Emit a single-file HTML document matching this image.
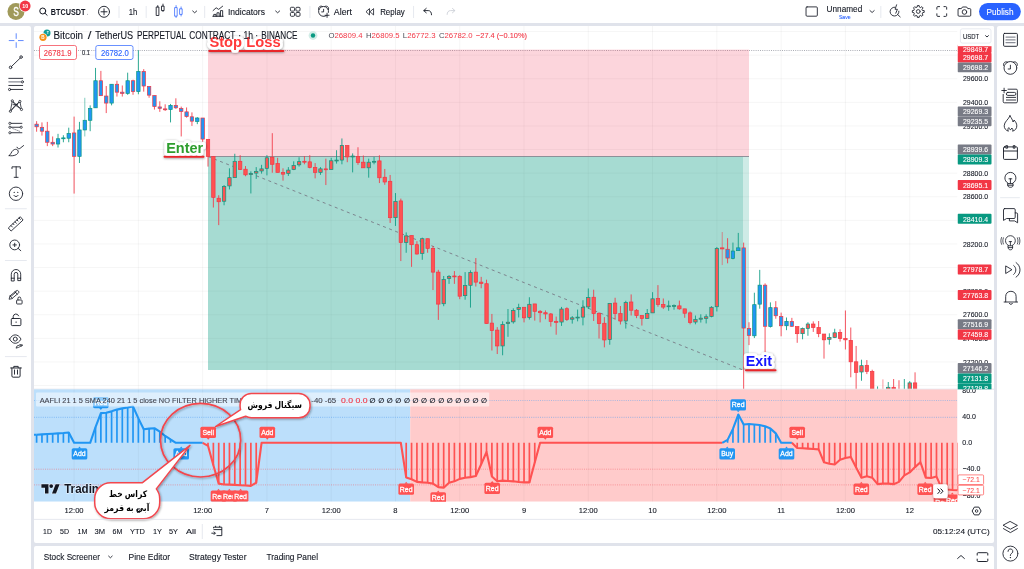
<!DOCTYPE html>
<html lang="en"><head><meta charset="utf-8">
<title>BTCUSDT 26782.0 — TradingView</title>
<style>
html,body{margin:0;padding:0;}
body{width:1024px;height:569px;overflow:hidden;background:#E0E3EB;font-family:"Liberation Sans", "DejaVu Sans", sans-serif;}
.page{position:relative;width:1024px;height:569px;overflow:hidden;background:#E0E3EB;}
.panel{position:absolute;background:#fff;overflow:hidden;}
.panel svg{display:block;font-family:"Liberation Sans", "DejaVu Sans", sans-serif;}
text{white-space:pre;}
</style></head>
<body><div class="page">
<div class="panel topbar" style="left:0px;top:0px;width:1024px;height:23.2px;"><svg width="1024" height="23.2" viewBox="0 0 1024 23.2">
<circle cx="15.7" cy="11.4" r="8.5" fill="#A09A5A"/>
<text x="15.8" y="15.9" font-size="12" fill="#fff" text-anchor="middle" textLength="5.6" lengthAdjust="spacingAndGlyphs" stroke="#fff" stroke-width="0.35">S</text>
<circle cx="24.9" cy="6" r="6.1" fill="#fff"/><circle cx="24.9" cy="6" r="5.4" fill="#F23645"/>
<text x="24.95" y="8.12" font-size="6.2" fill="#fff" font-weight="bold" text-anchor="middle" textLength="6" lengthAdjust="spacingAndGlyphs">10</text>
<path d="M45.5 11A3 3 0 1 1 39.5 11A3 3 0 1 1 45.5 11M44.7 13.2L46.9 15.3" stroke="#131722" stroke-width="1" fill="none" stroke-linecap="round" stroke-linejoin="round"/>
<text x="50.6" y="14.61" font-size="8.7" fill="#131722" font-weight="bold" textLength="34.6" lengthAdjust="spacingAndGlyphs">BTCUSDT</text>
<circle cx="87.3" cy="14.2" r="0.5" fill="#9598A1"/>
<path d="M109.3 11.8A5.5 5.5 0 1 1 98.3 11.8A5.5 5.5 0 1 1 109.3 11.8M103.8 8.8V14.8M100.8 11.8H106.8" stroke="#131722" stroke-width="0.9" fill="none" stroke-linecap="round" stroke-linejoin="round"/>
<path d="M118.8 6V18" stroke="#E0E3EB" stroke-width="0.8"/>
<path d="M146 6V18" stroke="#E0E3EB" stroke-width="0.8"/>
<path d="M204.5 6V18" stroke="#E0E3EB" stroke-width="0.8"/>
<path d="M309.8 6V18" stroke="#E0E3EB" stroke-width="0.8"/>
<path d="M413.5 6V18" stroke="#E0E3EB" stroke-width="0.8"/>
<path d="M881 6V18" stroke="#E0E3EB" stroke-width="0.8"/>
<text x="128.6" y="14.64" font-size="8.5" fill="#131722" textLength="8.5" lengthAdjust="spacingAndGlyphs" stroke="#131722" stroke-width="0.1">1h</text>
<path d="M156.4 7H158.7V15.5H156.4ZM157.55 5.6V7M161.7 6.1H163.9V10.6H161.7ZM162.8 4.1V6.1M162.8 10.6V11.4" stroke="#131722" stroke-width="0.85" fill="none" stroke-linecap="round" stroke-linejoin="round" stroke-linejoin="miter" stroke-linecap="butt"/>
<path d="M174.8 7.6H177V16.2H174.8ZM175.9 5.6V7.6M175.9 16.2V17.5M179.8 8.8H182V14.4H179.8ZM180.9 6.9V8.8M180.9 14.4V16" stroke="#3D6FFF" stroke-width="0.8" fill="none" stroke-linecap="round" stroke-linejoin="round" stroke-linejoin="miter" stroke-linecap="butt"/>
<path d="M192.5 11L194.5 12.8L196.5 11" stroke="#131722" stroke-width="0.85" fill="none" stroke-linecap="round" stroke-linejoin="round"/>
<path d="M212.6 16.3H223M213.6 16.3V14.4H215.8V16.3M216.8 16.3V12.8H219V16.3M220.3 16.3V10.6H222.5V16.3" stroke="#131722" stroke-width="0.85" fill="none" stroke-linecap="round" stroke-linejoin="round" stroke-linejoin="miter" stroke-linecap="butt"/>
<path d="M212.9 10.6L216 7.8L218.5 9.4L222.5 6.2" stroke="#131722" stroke-width="0.85" fill="none" stroke-linecap="round" stroke-linejoin="round"/>
<text x="227.8" y="14.64" font-size="8.5" fill="#131722" textLength="37" lengthAdjust="spacingAndGlyphs" stroke="#131722" stroke-width="0.1">Indicators</text>
<path d="M275.5 11L277.5 12.8L279.5 11" stroke="#131722" stroke-width="0.85" fill="none" stroke-linecap="round" stroke-linejoin="round"/>
<rect x="290.3" y="7.3" width="4.1" height="3.8" rx="1" fill="none" stroke="#131722" stroke-width="0.85"/>
<rect x="295.8" y="7.3" width="4.1" height="3.8" rx="1" fill="none" stroke="#131722" stroke-width="0.85"/>
<rect x="290.3" y="12.5" width="4.1" height="3.8" rx="1" fill="none" stroke="#131722" stroke-width="0.85"/>
<rect x="295.8" y="12.5" width="4.1" height="3.8" rx="1" fill="none" stroke="#131722" stroke-width="0.85"/>
<path d="M326 15.8A5 5 0 1 1 328.4 12.4M323.5 9.3V11.9H321.6M318.6 9.6C317.8 7.2 319.9 5.3 322.2 6.4M328.4 9.6C329.2 7.2 327.1 5.3 324.8 6.4M324.9 15.3H329M326.95 13.2V17.4" stroke="#131722" stroke-width="0.85" fill="none" stroke-linecap="round" stroke-linejoin="round"/>
<text x="333.7" y="14.64" font-size="8.5" fill="#131722" textLength="18.2" lengthAdjust="spacingAndGlyphs" stroke="#131722" stroke-width="0.1">Alert</text>
<path d="M369.4 9V15L366.2 12ZM373.5 9V15L370.2 12Z" stroke="#131722" stroke-width="0.8" fill="none" stroke-linecap="round" stroke-linejoin="round" stroke-linejoin="miter"/>
<text x="380.1" y="14.64" font-size="8.5" fill="#131722" textLength="24.6" lengthAdjust="spacingAndGlyphs" stroke="#131722" stroke-width="0.1">Replay</text>
<path d="M426.2 8.4L423.7 10.6L426.2 12.8M423.9 10.6H428.2C430.2 10.6 431.5 12.2 431.5 14.8" stroke="#131722" stroke-width="0.9" fill="none" stroke-linecap="round" stroke-linejoin="round"/>
<path d="M452.4 8.4L454.9 10.6L452.4 12.8M454.7 10.6H450.4C448.4 10.6 447.1 12.2 447.1 14.4" stroke="#CDD0D8" stroke-width="0.9" fill="none" stroke-linecap="round" stroke-linejoin="round"/>
<path d="M807.2 6.9H816.5A1 1 0 0 1 817.5 7.9V15.2A1 1 0 0 1 816.5 16.2H807.2A1 1 0 0 1 806.2 15.2V7.9A1 1 0 0 1 807.2 6.9Z" stroke="#131722" stroke-width="0.85" fill="none" stroke-linecap="round" stroke-linejoin="round"/>
<text x="826.8" y="11.64" font-size="8.5" fill="#131722" textLength="35.6" lengthAdjust="spacingAndGlyphs" stroke="#131722" stroke-width="0.1">Unnamed</text>
<text x="845" y="18.72" font-size="6.2" fill="#2962FF" text-anchor="middle" textLength="11.8" lengthAdjust="spacingAndGlyphs" stroke="#2962FF" stroke-width="0.1">Save</text>
<path d="M870.2 10.6L872.3 12.5L874.4 10.6" stroke="#131722" stroke-width="0.85" fill="none" stroke-linecap="round" stroke-linejoin="round"/>
<path d="M894.9 7.2A4.4 4.4 0 1 0 899.1 11.2M897.9 14.6L900.4 16.9M896.8 4.8L895.3 9.3H897.6L896 13.2" stroke="#131722" stroke-width="0.85" fill="none" stroke-linecap="round" stroke-linejoin="round"/>
<path d="M922.98 10.45L924.43 10.6L924.43 12.4L922.98 12.55L922.41 13.93L923.33 15.06L922.06 16.33L920.93 15.41L919.55 15.98L919.4 17.43L917.6 17.43L917.45 15.98L916.07 15.41L914.94 16.33L913.67 15.06L914.59 13.93L914.02 12.55L912.57 12.4L912.57 10.6L914.02 10.45L914.59 9.07L913.67 7.94L914.94 6.67L916.07 7.59L917.45 7.02L917.6 5.57L919.4 5.57L919.55 7.02L920.93 7.59L922.06 6.67L923.33 7.94L922.41 9.07ZM920.4 11.5A1.9 1.9 0 1 1 916.6 11.5A1.9 1.9 0 1 1 920.4 11.5" stroke="#131722" stroke-width="0.85" fill="none" stroke-linecap="round" stroke-linejoin="round"/>
<path d="M937.1 9.2V7.6A1 1 0 0 1 938.1 6.6H939.8M944.2 6.6H945.9A1 1 0 0 1 946.9 7.6V9.2M946.9 13.8V15.4A1 1 0 0 1 945.9 16.4H944.2M939.8 16.4H938.1A1 1 0 0 1 937.1 15.4V13.8" stroke="#131722" stroke-width="0.9" fill="none" stroke-linecap="round" stroke-linejoin="round"/>
<path d="M959.3 8.6H961.6L962.7 7H966.9L968 8.6H970A1 1 0 0 1 971 9.6V15.2A1 1 0 0 1 970 16.2H959.3A1 1 0 0 1 958.3 15.2V9.6A1 1 0 0 1 959.3 8.6ZM967 12A2.3 2.3 0 1 1 962.4 12A2.3 2.3 0 1 1 967 12" stroke="#131722" stroke-width="0.85" fill="none" stroke-linecap="round" stroke-linejoin="round"/>
<rect x="979.3" y="3" width="41.8" height="17.2" rx="8.6" fill="#2962FF"/>
<text x="986.8" y="14.74" font-size="8.5" fill="#fff" textLength="27" lengthAdjust="spacingAndGlyphs" stroke="#fff" stroke-width="0.1">Publish</text>
</svg></div>
<div class="panel leftbar" style="left:0px;top:26px;width:31.4px;height:543px;border-radius:0 2px 0 0;"><svg width="31.4" height="543" viewBox="0 26 31.4 543">
<path d="M16.2 33.6V38.4M16.2 42.6V47.4M9.2 40.5H14M18.4 40.5H23.2" stroke="#2962FF" stroke-width="0.75" fill="none" stroke-linecap="round" stroke-linejoin="round"/>
<path d="M11.6 66.3L20.2 58M11.9 67.3A1.3 1.3 0 1 1 9.3 67.3A1.3 1.3 0 1 1 11.9 67.3M22.4 57A1.3 1.3 0 1 1 19.8 57A1.3 1.3 0 1 1 22.4 57" stroke="#131722" stroke-width="0.85" fill="none" stroke-linecap="round" stroke-linejoin="round"/>
<path d="M8.8 78.3H22.7M8.8 85.4H22.7M10.8 89.4H22.7M10.7 89.4A1.1 1.1 0 1 1 8.5 89.4A1.1 1.1 0 1 1 10.7 89.4M23.5 81.8A1.1 1.1 0 1 1 21.3 81.8A1.1 1.1 0 1 1 23.5 81.8" stroke="#131722" stroke-width="0.85" fill="none" stroke-linecap="round" stroke-linejoin="round"/>
<path d="M8.8 81.8H21.2" stroke="#8A8D97" stroke-width="1.1" fill="none" stroke-linecap="round" stroke-linejoin="round"/>
<path d="M10.4 111.2L12.3 100.8L15.4 105.1L19.9 101.4L21.5 109.4L15.4 105.1L10.4 111.2M12.3 100.8L21.5 109.4M10.4 111.2L19.9 101.4M13 104.6H17.6" stroke="#131722" stroke-width="0.75" fill="none" stroke-linecap="round" stroke-linejoin="round"/>
<circle cx="10.4" cy="111.2" r="1.1" fill="#fff" stroke="#131722" stroke-width="0.75"/>
<circle cx="12.3" cy="100.8" r="1.1" fill="#fff" stroke="#131722" stroke-width="0.75"/>
<circle cx="19.9" cy="101.4" r="1.1" fill="#fff" stroke="#131722" stroke-width="0.75"/>
<circle cx="21.5" cy="109.4" r="1.1" fill="#fff" stroke="#131722" stroke-width="0.75"/>
<path d="M11.1 123.3H21.9M11.1 127.2H20M11.1 132.7H21.9" stroke="#131722" stroke-width="0.85" fill="none" stroke-linecap="round" stroke-linejoin="round"/>
<circle cx="9.9" cy="123.3" r="1.1" fill="#fff" stroke="#131722" stroke-width="0.75"/>
<circle cx="9.9" cy="127.2" r="1.1" fill="#fff" stroke="#131722" stroke-width="0.75"/>
<circle cx="21.2" cy="127.2" r="1.1" fill="#fff" stroke="#131722" stroke-width="0.75"/>
<circle cx="9.9" cy="132.7" r="1.1" fill="#fff" stroke="#131722" stroke-width="0.75"/>
<path d="M12.6 128.4L20.4 131.6" stroke="#6A6D78" stroke-width="0.7" fill="none" stroke-linecap="round" stroke-linejoin="round" stroke-dasharray="1.1 1.1"/>
<path d="M9.2 155.6C10.8 154.8 11.2 151.8 13.2 150.2C14.6 149 16.6 149 17.6 150C18.8 151.2 18.4 153.2 16.6 154.4C14.6 155.8 11 156 9.2 155.6ZM17 147.2C17.4 148.8 19 149.2 20.2 148.2L23.6 145.5" stroke="#131722" stroke-width="0.85" fill="none" stroke-linecap="round" stroke-linejoin="round"/>
<path d="M12 168.6V166.8H20.3V168.6M16.15 166.8V177.2M14.2 177.3H18.1" stroke="#131722" stroke-width="0.85" fill="none" stroke-linecap="round" stroke-linejoin="round"/>
<path d="M22.7 193.7A6.7 6.7 0 1 1 9.3 193.7A6.7 6.7 0 1 1 22.7 193.7M13.9 195.4C14.8 197 17.2 197 18.1 195.4" stroke="#131722" stroke-width="0.85" fill="none" stroke-linecap="round" stroke-linejoin="round"/>
<circle cx="14.2" cy="192.3" r="0.65" fill="#131722"/><circle cx="17.8" cy="192.3" r="0.65" fill="#131722"/>
<path d="M5 208.7H26.8" stroke="#E0E3EB" stroke-width="0.8"/>
<path d="M5 260.5H26.8" stroke="#E0E3EB" stroke-width="0.8"/>
<path d="M5 356.6H26.8" stroke="#E0E3EB" stroke-width="0.8"/>
<path d="M8.6 227.7L20.3 216.7L23.1 220L11.4 230.8ZM11 225.6L12.4 227M13 223.6L14 224.7M15 221.8L16.4 223.2M17 219.9L18 221M19 218L20.4 219.4" stroke="#131722" stroke-width="0.85" fill="none" stroke-linecap="round" stroke-linejoin="round"/>
<path d="M19.6 244.9A4.9 4.9 0 1 1 9.8 244.9A4.9 4.9 0 1 1 19.6 244.9M18.2 248.4L20.8 250.7M13 244.9H16.4M14.7 243.2V246.6" stroke="#131722" stroke-width="0.85" fill="none" stroke-linecap="round" stroke-linejoin="round"/>
<path d="M11.3 280.6V274.2A4.7 4.7 0 0 1 20.7 274.2V280.6H17.8V274.2A1.8 1.8 0 0 0 14.2 274.2V280.6ZM11.3 278.2H14.2M17.8 278.2H20.7" stroke="#131722" stroke-width="0.85" fill="none" stroke-linecap="round" stroke-linejoin="round"/>
<path d="M9.2 298.9L10 295.9L16.4 290.6C17 290.2 17.8 290.4 18.4 291C19 291.8 19 292.6 18.4 293.2L12.2 298.4ZM10 295.9L12.2 298.4M15 291.8L17.2 294.2M11.4 296L16.4 291.8" stroke="#131722" stroke-width="0.8" fill="none" stroke-linecap="round" stroke-linejoin="round"/>
<rect x="16.6" y="300" width="5.5" height="4" rx="0.7" fill="#fff" stroke="#131722" stroke-width="0.85"/>
<path d="M17.9 300V298.6A1.5 1.5 0 0 1 20.9 298.4" stroke="#131722" stroke-width="0.85" fill="none" stroke-linecap="round" stroke-linejoin="round"/>
<path d="M12.3 318.5H19.9A1 1 0 0 1 20.9 319.5V324.6A1 1 0 0 1 19.9 325.6H12.3A1 1 0 0 1 11.3 324.6V319.5A1 1 0 0 1 12.3 318.5ZM13.2 318.5V316.6A2.8 2.8 0 0 1 18.6 315.8" stroke="#131722" stroke-width="0.9" fill="none" stroke-linecap="round" stroke-linejoin="round"/>
<circle cx="16.1" cy="322.1" r="0.7" fill="#131722"/>
<path d="M9.6 339.1C11.2 336.2 13.2 334.9 15.3 334.9C17.4 334.9 19.4 336.2 21 339.1C19.4 342 17.4 343.3 15.3 343.3C13.2 343.3 11.2 342 9.6 339.1ZM17.3 339.1A2 2 0 1 1 13.3 339.1A2 2 0 1 1 17.3 339.1" stroke="#131722" stroke-width="0.85" fill="none" stroke-linecap="round" stroke-linejoin="round"/>
<path d="M16.2 347.8L17 346L21 344.6L22.8 345.2L19 347.2ZM20 344.8L21.6 346" stroke="#131722" stroke-width="0.75" fill="none" stroke-linecap="round" stroke-linejoin="round"/>
<path d="M10.6 368H21.4M11.9 368V376A1.2 1.2 0 0 0 13.1 377.2H18.9A1.2 1.2 0 0 0 20.1 376V368M13.8 367.8V366.4H18.2V367.8M14.5 370V374.2M17.5 370V374.2" stroke="#131722" stroke-width="0.9" fill="none" stroke-linecap="round" stroke-linejoin="round"/>
</svg></div>
<div class="panel chart" style="left:34px;top:26px;width:960px;height:516.5px;border-radius:2px;"><svg width="960" height="516.5" viewBox="34 26 960 516.5">
<defs><clipPath id="cpMain"><rect x="34" y="26" width="923.5" height="363.2"/></clipPath><clipPath id="cpInd"><rect x="34" y="389.2" width="923.5" height="112.5"/></clipPath><filter id="sh" x="-20%" y="-20%" width="140%" height="150%"><feDropShadow dx="0.8" dy="1" stdDeviation="0.9" flood-color="#000" flood-opacity="0.35"/></filter><filter id="sh2" x="-20%" y="-20%" width="140%" height="150%"><feDropShadow dx="0.3" dy="0.6" stdDeviation="1" flood-color="#000" flood-opacity="0.45"/></filter></defs>
<g clip-path="url(#cpMain)">
<path d="M74.1 26V389.2M138.38 26V389.2M202.65 26V389.2M266.93 26V389.2M331.21 26V389.2M395.49 26V389.2M459.76 26V389.2M524.04 26V389.2M588.32 26V389.2M652.59 26V389.2M716.87 26V389.2M781.15 26V389.2M845.42 26V389.2M909.7 26V389.2M34 31.55H957.5M34 55.15H957.5M34 78.75H957.5M34 102.35H957.5M34 125.95H957.5M34 149.55H957.5M34 173.15H957.5M34 196.75H957.5M34 220.35H957.5M34 243.95H957.5M34 267.55H957.5M34 291.15H957.5M34 314.75H957.5M34 338.35H957.5M34 361.95H957.5M34 385.55H957.5" stroke="rgba(42,46,57,0.045)" stroke-width="1" fill="none"/>
<path d="M34 50.5H957.5" stroke="#9598A1" stroke-width="0.8" stroke-dasharray="1 1.2" fill="none"/>
<rect x="208" y="49.6" width="541" height="106.9" fill="rgba(240,45,80,0.2)"/>
<rect x="208" y="156.5" width="541" height="213.5" fill="rgba(8,153,129,0.2)"/>
<rect x="208" y="156.5" width="535" height="213.5" fill="rgba(8,153,129,0.2)"/>
<path d="M208 156.5H749" stroke="#7F828D" stroke-width="0.85" fill="none"/>
<path d="M208 156.5L743 370" stroke="#787B86" stroke-width="0.9" stroke-dasharray="3 3.5" fill="none"/>
<path d="M36.61 121.17V131.72" stroke="#F23645" stroke-width="0.85"/>
<rect x="34.91" y="124.16" width="3.4" height="2.64" fill="#2196F3" stroke="#F23645" stroke-width="0.7"/>
<path d="M41.96 122.4V135.59" stroke="#F23645" stroke-width="0.85"/>
<rect x="40.26" y="127.32" width="3.4" height="3.87" fill="#2196F3" stroke="#F23645" stroke-width="0.7"/>
<path d="M47.32 121.88V146.13" stroke="#F23645" stroke-width="0.85"/>
<rect x="45.62" y="131.19" width="3.4" height="11.07" fill="#2196F3" stroke="#F23645" stroke-width="0.7"/>
<path d="M52.67 136.46V146.13" stroke="#F23645" stroke-width="0.85"/>
<rect x="50.97" y="142.27" width="3.4" height="1.76" fill="#2196F3" stroke="#F23645" stroke-width="0.7"/>
<path d="M58.03 133.83V147.54" stroke="#089981" stroke-width="0.85"/>
<rect x="56.33" y="138.75" width="3.4" height="5.27" fill="#2196F3" stroke="#089981" stroke-width="0.7"/>
<path d="M63.39 135.23V142.27" stroke="#089981" stroke-width="0.85"/>
<rect x="61.69" y="137.87" width="3.4" height="0.9" fill="#2196F3" stroke="#089981" stroke-width="0.7"/>
<path d="M68.74 127.68V142.27" stroke="#089981" stroke-width="0.85"/>
<rect x="67.04" y="133.48" width="3.4" height="4.75" fill="#2196F3" stroke="#089981" stroke-width="0.7"/>
<path d="M74.1 116.6V193.59" stroke="#F23645" stroke-width="0.85"/>
<rect x="72.4" y="132.95" width="3.4" height="23.38" fill="#2196F3" stroke="#F23645" stroke-width="0.7"/>
<path d="M79.46 121.88V163.01" stroke="#089981" stroke-width="0.85"/>
<rect x="77.76" y="129.96" width="3.4" height="26.37" fill="#2196F3" stroke="#089981" stroke-width="0.7"/>
<path d="M84.81 97.79V136.46" stroke="#089981" stroke-width="0.85" opacity="0.6"/>
<rect x="83.11" y="120.29" width="3.4" height="9.67" fill="#2196F3" stroke="#089981" stroke-width="0.7"/>
<path d="M90.17 105.35V131.19" stroke="#089981" stroke-width="0.85"/>
<rect x="88.47" y="108.34" width="3.4" height="11.95" fill="#2196F3" stroke="#089981" stroke-width="0.7"/>
<path d="M95.53 67.91V107.81" stroke="#089981" stroke-width="0.85"/>
<rect x="93.83" y="80.74" width="3.4" height="27.07" fill="#2196F3" stroke="#089981" stroke-width="0.7"/>
<path d="M100.88 70.9V95.68" stroke="#F23645" stroke-width="0.85"/>
<rect x="99.18" y="80.74" width="3.4" height="14.94" fill="#2196F3" stroke="#F23645" stroke-width="0.7"/>
<path d="M106.24 86.02V113.09" stroke="#F23645" stroke-width="0.85"/>
<rect x="104.54" y="96.04" width="3.4" height="7.03" fill="#2196F3" stroke="#F23645" stroke-width="0.7"/>
<path d="M111.59 84.26V105.35" stroke="#089981" stroke-width="0.85"/>
<rect x="109.89" y="84.26" width="3.4" height="18.81" fill="#2196F3" stroke="#089981" stroke-width="0.7"/>
<path d="M116.95 80.74V96.56" stroke="#F23645" stroke-width="0.85"/>
<rect x="115.25" y="84.26" width="3.4" height="7.91" fill="#2196F3" stroke="#F23645" stroke-width="0.7"/>
<path d="M122.31 85.49V96.56" stroke="#F23645" stroke-width="0.85"/>
<rect x="120.61" y="92.17" width="3.4" height="1.23" fill="#2196F3" stroke="#F23645" stroke-width="0.7"/>
<path d="M127.66 72.66V94.8" stroke="#089981" stroke-width="0.85"/>
<rect x="125.96" y="80.74" width="3.4" height="12.66" fill="#2196F3" stroke="#089981" stroke-width="0.7"/>
<path d="M133.02 79.69V94.8" stroke="#F23645" stroke-width="0.85"/>
<rect x="131.32" y="80.74" width="3.4" height="10.9" fill="#2196F3" stroke="#F23645" stroke-width="0.7"/>
<path d="M138.38 50.21V94.28" stroke="#089981" stroke-width="0.85"/>
<rect x="136.68" y="71.43" width="3.4" height="20.21" fill="#2196F3" stroke="#089981" stroke-width="0.7"/>
<path d="M143.73 69.14V91.64" stroke="#F23645" stroke-width="0.85"/>
<rect x="142.03" y="71.43" width="3.4" height="14.59" fill="#2196F3" stroke="#F23645" stroke-width="0.7"/>
<path d="M149.09 86.37V97.79" stroke="#F23645" stroke-width="0.85"/>
<rect x="147.39" y="86.37" width="3.4" height="8.79" fill="#2196F3" stroke="#F23645" stroke-width="0.7"/>
<path d="M154.45 95.51V109.57" stroke="#F23645" stroke-width="0.85"/>
<rect x="152.75" y="95.51" width="3.4" height="11.07" fill="#2196F3" stroke="#F23645" stroke-width="0.7"/>
<path d="M159.8 101.31V111.86" stroke="#F23645" stroke-width="0.85"/>
<rect x="158.1" y="106.93" width="3.4" height="1.41" fill="#2196F3" stroke="#F23645" stroke-width="0.7"/>
<path d="M165.16 104.3V110.98" stroke="#F23645" stroke-width="0.85"/>
<rect x="163.46" y="108.87" width="3.4" height="0.9" fill="#2196F3" stroke="#F23645" stroke-width="0.7"/>
<path d="M170.52 103.95V122.4" stroke="#089981" stroke-width="0.85"/>
<rect x="168.82" y="105.35" width="3.4" height="4.22" fill="#2196F3" stroke="#089981" stroke-width="0.7"/>
<path d="M175.87 98.32V108.87" stroke="#F23645" stroke-width="0.85"/>
<rect x="174.17" y="105.35" width="3.4" height="2.46" fill="#2196F3" stroke="#F23645" stroke-width="0.7"/>
<path d="M181.23 106.58V136.46" stroke="#F23645" stroke-width="0.85"/>
<rect x="179.53" y="108.34" width="3.4" height="3.16" fill="#2196F3" stroke="#F23645" stroke-width="0.7"/>
<path d="M186.58 107.46V117.66" stroke="#F23645" stroke-width="0.85"/>
<rect x="184.88" y="111.86" width="3.4" height="4.75" fill="#2196F3" stroke="#F23645" stroke-width="0.7"/>
<path d="M191.94 112.38V125.92" stroke="#F23645" stroke-width="0.85"/>
<rect x="190.24" y="116.78" width="3.4" height="4.39" fill="#2196F3" stroke="#F23645" stroke-width="0.7"/>
<path d="M197.3 117.13V124.16" stroke="#089981" stroke-width="0.85"/>
<rect x="195.6" y="118.01" width="3.4" height="3.52" fill="#2196F3" stroke="#089981" stroke-width="0.7"/>
<path d="M202.65 118.01V141.74" stroke="#F23645" stroke-width="0.85"/>
<rect x="200.95" y="118.01" width="3.4" height="21.09" fill="#2196F3" stroke="#F23645" stroke-width="0.7"/>
<path d="M208.01 139.34V166.58" stroke="#F23645" stroke-width="0.85"/>
<rect x="206.31" y="139.34" width="3.4" height="17.23" fill="#FF5252" stroke="#F23645" stroke-width="0.7"/>
<path d="M213.37 156.56V207.54" stroke="#F23645" stroke-width="0.85"/>
<rect x="211.67" y="156.56" width="3.4" height="40.78" fill="#FF5252" stroke="#F23645" stroke-width="0.7"/>
<path d="M218.72 195.23V225.12" stroke="#F23645" stroke-width="0.85"/>
<rect x="217.02" y="198.22" width="3.4" height="3.52" fill="#FF5252" stroke="#F23645" stroke-width="0.7"/>
<path d="M224.08 185.04V205.25" stroke="#089981" stroke-width="0.85"/>
<rect x="222.38" y="186.45" width="3.4" height="14.77" fill="#FF5252" stroke="#089981" stroke-width="0.7"/>
<path d="M229.44 168.34V189.43" stroke="#089981" stroke-width="0.85"/>
<rect x="227.74" y="177.66" width="3.4" height="8.26" fill="#FF5252" stroke="#089981" stroke-width="0.7"/>
<path d="M234.79 153.75V177.66" stroke="#089981" stroke-width="0.85"/>
<rect x="233.09" y="161.31" width="3.4" height="16.35" fill="#FF5252" stroke="#089981" stroke-width="0.7"/>
<path d="M240.15 155.16V169.57" stroke="#F23645" stroke-width="0.85"/>
<rect x="238.45" y="161.31" width="3.4" height="8.26" fill="#FF5252" stroke="#F23645" stroke-width="0.7"/>
<path d="M245.5 166.05V176.25" stroke="#F23645" stroke-width="0.85"/>
<rect x="243.8" y="169.22" width="3.4" height="5.62" fill="#FF5252" stroke="#F23645" stroke-width="0.7"/>
<path d="M250.86 171.33V193.48" stroke="#089981" stroke-width="0.85"/>
<rect x="249.16" y="173.61" width="3.4" height="0.9" fill="#FF5252" stroke="#089981" stroke-width="0.7"/>
<path d="M256.22 167.11V178.89" stroke="#089981" stroke-width="0.85"/>
<rect x="254.52" y="171.33" width="3.4" height="1.76" fill="#FF5252" stroke="#089981" stroke-width="0.7"/>
<path d="M261.57 164.82V173.61" stroke="#089981" stroke-width="0.85"/>
<rect x="259.87" y="168.87" width="3.4" height="2.11" fill="#FF5252" stroke="#089981" stroke-width="0.7"/>
<path d="M266.93 155.16V175.37" stroke="#089981" stroke-width="0.85"/>
<rect x="265.23" y="157.79" width="3.4" height="10.55" fill="#FF5252" stroke="#089981" stroke-width="0.7"/>
<path d="M272.29 133.18V172.73" stroke="#F23645" stroke-width="0.85"/>
<rect x="270.59" y="157.27" width="3.4" height="7.03" fill="#FF5252" stroke="#F23645" stroke-width="0.7"/>
<path d="M277.64 157.79V172.38" stroke="#F23645" stroke-width="0.85"/>
<rect x="275.94" y="163.59" width="3.4" height="8.79" fill="#FF5252" stroke="#F23645" stroke-width="0.7"/>
<path d="M283 168.34V180.64" stroke="#F23645" stroke-width="0.85"/>
<rect x="281.3" y="172.38" width="3.4" height="1.76" fill="#FF5252" stroke="#F23645" stroke-width="0.7"/>
<path d="M288.36 167.11V175.9" stroke="#089981" stroke-width="0.85"/>
<rect x="286.66" y="170.1" width="3.4" height="3.52" fill="#FF5252" stroke="#089981" stroke-width="0.7"/>
<path d="M293.71 161.31V170.1" stroke="#089981" stroke-width="0.85"/>
<rect x="292.01" y="165.35" width="3.4" height="4.22" fill="#FF5252" stroke="#089981" stroke-width="0.7"/>
<path d="M299.07 157.27V166.58" stroke="#089981" stroke-width="0.85"/>
<rect x="297.37" y="161.66" width="3.4" height="3.16" fill="#FF5252" stroke="#089981" stroke-width="0.7"/>
<path d="M304.43 156.04V164.3" stroke="#F23645" stroke-width="0.85"/>
<rect x="302.73" y="161.31" width="3.4" height="0.9" fill="#FF5252" stroke="#F23645" stroke-width="0.7"/>
<path d="M309.78 155.16V168.34" stroke="#F23645" stroke-width="0.85"/>
<rect x="308.08" y="161.84" width="3.4" height="5.62" fill="#FF5252" stroke="#F23645" stroke-width="0.7"/>
<path d="M315.14 163.07V178.36" stroke="#F23645" stroke-width="0.85"/>
<rect x="313.44" y="167.46" width="3.4" height="4.92" fill="#FF5252" stroke="#F23645" stroke-width="0.7"/>
<path d="M320.49 167.11V174.84" stroke="#089981" stroke-width="0.85"/>
<rect x="318.79" y="168.87" width="3.4" height="3.52" fill="#FF5252" stroke="#089981" stroke-width="0.7"/>
<path d="M325.85 158.67V185.04" stroke="#F23645" stroke-width="0.85"/>
<rect x="324.15" y="168.87" width="3.4" height="0.9" fill="#FF5252" stroke="#F23645" stroke-width="0.7"/>
<path d="M331.21 157.79V169.57" stroke="#089981" stroke-width="0.85"/>
<rect x="329.51" y="160.78" width="3.4" height="8.79" fill="#FF5252" stroke="#089981" stroke-width="0.7"/>
<path d="M336.56 150.23V163.59" stroke="#089981" stroke-width="0.85"/>
<rect x="334.86" y="160.08" width="3.4" height="0.9" fill="#FF5252" stroke="#089981" stroke-width="0.7"/>
<path d="M341.92 138.46V164.3" stroke="#089981" stroke-width="0.85"/>
<rect x="340.22" y="145.49" width="3.4" height="14.59" fill="#FF5252" stroke="#089981" stroke-width="0.7"/>
<path d="M347.28 145.49V162.19" stroke="#F23645" stroke-width="0.85"/>
<rect x="345.58" y="145.49" width="3.4" height="11.43" fill="#FF5252" stroke="#F23645" stroke-width="0.7"/>
<path d="M352.63 153.4V172.38" stroke="#089981" stroke-width="0.85"/>
<rect x="350.93" y="156.04" width="3.4" height="0.9" fill="#FF5252" stroke="#089981" stroke-width="0.7"/>
<path d="M357.99 147.25V164.82" stroke="#F23645" stroke-width="0.85"/>
<rect x="356.29" y="156.39" width="3.4" height="6.15" fill="#FF5252" stroke="#F23645" stroke-width="0.7"/>
<path d="M363.35 155.51V167.81" stroke="#F23645" stroke-width="0.85"/>
<rect x="361.65" y="162.19" width="3.4" height="5.62" fill="#FF5252" stroke="#F23645" stroke-width="0.7"/>
<path d="M368.7 158.67V177.66" stroke="#089981" stroke-width="0.85"/>
<rect x="367" y="162.19" width="3.4" height="5.62" fill="#FF5252" stroke="#089981" stroke-width="0.7"/>
<path d="M374.06 156.91V164.3" stroke="#089981" stroke-width="0.85"/>
<rect x="372.36" y="161.31" width="3.4" height="0.9" fill="#FF5252" stroke="#089981" stroke-width="0.7"/>
<path d="M379.41 155.27V183.05" stroke="#F23645" stroke-width="0.85"/>
<rect x="377.71" y="160.9" width="3.4" height="16.88" fill="#FF5252" stroke="#F23645" stroke-width="0.7"/>
<path d="M384.77 168.98V184.8" stroke="#F23645" stroke-width="0.85"/>
<rect x="383.07" y="177.25" width="3.4" height="4.75" fill="#FF5252" stroke="#F23645" stroke-width="0.7"/>
<path d="M390.13 174.96V222.95" stroke="#F23645" stroke-width="0.85"/>
<rect x="388.43" y="181.29" width="3.4" height="36.39" fill="#FF5252" stroke="#F23645" stroke-width="0.7"/>
<path d="M395.48 193.07V225.94" stroke="#089981" stroke-width="0.85"/>
<rect x="393.78" y="201.33" width="3.4" height="16.35" fill="#FF5252" stroke="#089981" stroke-width="0.7"/>
<path d="M400.84 198.63V261.04" stroke="#F23645" stroke-width="0.85"/>
<rect x="399.14" y="200.92" width="3.4" height="41.66" fill="#FF5252" stroke="#F23645" stroke-width="0.7"/>
<path d="M406.2 232.38V252.77" stroke="#089981" stroke-width="0.85"/>
<rect x="404.5" y="235.9" width="3.4" height="6.68" fill="#FF5252" stroke="#089981" stroke-width="0.7"/>
<path d="M411.55 235.55V266.84" stroke="#F23645" stroke-width="0.85"/>
<rect x="409.85" y="235.55" width="3.4" height="9.14" fill="#FF5252" stroke="#F23645" stroke-width="0.7"/>
<path d="M416.91 241.17V254.53" stroke="#F23645" stroke-width="0.85"/>
<rect x="415.21" y="244.69" width="3.4" height="9.32" fill="#FF5252" stroke="#F23645" stroke-width="0.7"/>
<path d="M422.27 237.66V259.8" stroke="#089981" stroke-width="0.85"/>
<rect x="420.57" y="238.71" width="3.4" height="14.77" fill="#FF5252" stroke="#089981" stroke-width="0.7"/>
<path d="M427.62 238.71V252.77" stroke="#F23645" stroke-width="0.85"/>
<rect x="425.92" y="238.71" width="3.4" height="9.67" fill="#FF5252" stroke="#F23645" stroke-width="0.7"/>
<path d="M432.98 246.09V290.04" stroke="#F23645" stroke-width="0.85"/>
<rect x="431.28" y="248.38" width="3.4" height="23.73" fill="#FF5252" stroke="#F23645" stroke-width="0.7"/>
<path d="M438.34 269.82V319.92" stroke="#F23645" stroke-width="0.85"/>
<rect x="436.64" y="272.11" width="3.4" height="31.99" fill="#FF5252" stroke="#F23645" stroke-width="0.7"/>
<path d="M443.69 275.98V306.21" stroke="#089981" stroke-width="0.85"/>
<rect x="441.99" y="279.49" width="3.4" height="24.26" fill="#FF5252" stroke="#089981" stroke-width="0.7"/>
<path d="M449.05 275.1V283.89" stroke="#089981" stroke-width="0.85"/>
<rect x="447.35" y="276.33" width="3.4" height="2.29" fill="#FF5252" stroke="#089981" stroke-width="0.7"/>
<path d="M454.4 271.05V283.89" stroke="#F23645" stroke-width="0.85"/>
<rect x="452.7" y="275.98" width="3.4" height="0.9" fill="#FF5252" stroke="#F23645" stroke-width="0.7"/>
<path d="M459.76 275.1V299.18" stroke="#F23645" stroke-width="0.85"/>
<rect x="458.06" y="276.33" width="3.4" height="19.86" fill="#FF5252" stroke="#F23645" stroke-width="0.7"/>
<path d="M465.12 272.11V299.71" stroke="#089981" stroke-width="0.85"/>
<rect x="463.42" y="285.64" width="3.4" height="10.02" fill="#FF5252" stroke="#089981" stroke-width="0.7"/>
<path d="M470.47 270.35V307.62" stroke="#089981" stroke-width="0.85"/>
<rect x="468.77" y="272.46" width="3.4" height="12.83" fill="#FF5252" stroke="#089981" stroke-width="0.7"/>
<path d="M475.83 258.05V286.52" stroke="#F23645" stroke-width="0.85"/>
<rect x="474.13" y="272.11" width="3.4" height="10.02" fill="#FF5252" stroke="#F23645" stroke-width="0.7"/>
<path d="M481.19 276.86V288.28" stroke="#F23645" stroke-width="0.85"/>
<rect x="479.49" y="282.13" width="3.4" height="1.41" fill="#FF5252" stroke="#F23645" stroke-width="0.7"/>
<path d="M486.54 279.67V323.61" stroke="#F23645" stroke-width="0.85"/>
<rect x="484.84" y="283.71" width="3.4" height="39.9" fill="#FF5252" stroke="#F23645" stroke-width="0.7"/>
<path d="M491.9 313.95V350.51" stroke="#F23645" stroke-width="0.85"/>
<rect x="490.2" y="323.09" width="3.4" height="7.56" fill="#FF5252" stroke="#F23645" stroke-width="0.7"/>
<path d="M497.26 327.13V354.02" stroke="#F23645" stroke-width="0.85"/>
<rect x="495.56" y="330.12" width="3.4" height="15.82" fill="#FF5252" stroke="#F23645" stroke-width="0.7"/>
<path d="M502.61 321.33V355.25" stroke="#089981" stroke-width="0.85"/>
<rect x="500.91" y="324.49" width="3.4" height="21.45" fill="#FF5252" stroke="#089981" stroke-width="0.7"/>
<path d="M507.97 309.02V336.8" stroke="#089981" stroke-width="0.85"/>
<rect x="506.27" y="322.21" width="3.4" height="1.41" fill="#FF5252" stroke="#089981" stroke-width="0.7"/>
<path d="M513.32 308.32V323.61" stroke="#089981" stroke-width="0.85"/>
<rect x="511.62" y="310.43" width="3.4" height="11.43" fill="#FF5252" stroke="#089981" stroke-width="0.7"/>
<path d="M518.68 303.75V317.46" stroke="#089981" stroke-width="0.85"/>
<rect x="516.98" y="307.44" width="3.4" height="2.11" fill="#FF5252" stroke="#089981" stroke-width="0.7"/>
<path d="M524.04 307.27V322.38" stroke="#F23645" stroke-width="0.85"/>
<rect x="522.34" y="307.27" width="3.4" height="10.55" fill="#FF5252" stroke="#F23645" stroke-width="0.7"/>
<path d="M529.39 297.25V319.57" stroke="#089981" stroke-width="0.85"/>
<rect x="527.69" y="304.28" width="3.4" height="13.18" fill="#FF5252" stroke="#089981" stroke-width="0.7"/>
<path d="M534.75 303.93V320.62" stroke="#F23645" stroke-width="0.85"/>
<rect x="533.05" y="303.93" width="3.4" height="7.38" fill="#FF5252" stroke="#F23645" stroke-width="0.7"/>
<path d="M540.11 310.08V322.38" stroke="#F23645" stroke-width="0.85"/>
<rect x="538.41" y="311.31" width="3.4" height="1.41" fill="#FF5252" stroke="#F23645" stroke-width="0.7"/>
<path d="M545.46 310.43V319.22" stroke="#F23645" stroke-width="0.85"/>
<rect x="543.76" y="312.71" width="3.4" height="1.23" fill="#FF5252" stroke="#F23645" stroke-width="0.7"/>
<path d="M550.82 313.07V326.6" stroke="#F23645" stroke-width="0.85"/>
<rect x="549.12" y="313.95" width="3.4" height="7.56" fill="#FF5252" stroke="#F23645" stroke-width="0.7"/>
<path d="M556.18 316.58V334.69" stroke="#F23645" stroke-width="0.85"/>
<rect x="554.48" y="321.33" width="3.4" height="1.05" fill="#FF5252" stroke="#F23645" stroke-width="0.7"/>
<path d="M561.53 306.91V325.9" stroke="#089981" stroke-width="0.85"/>
<rect x="559.83" y="309.02" width="3.4" height="13.01" fill="#FF5252" stroke="#089981" stroke-width="0.7"/>
<path d="M566.89 307.27V320.98" stroke="#F23645" stroke-width="0.85"/>
<rect x="565.19" y="308.67" width="3.4" height="10.9" fill="#FF5252" stroke="#F23645" stroke-width="0.7"/>
<path d="M572.25 316.05V323.61" stroke="#089981" stroke-width="0.85"/>
<rect x="570.55" y="317.81" width="3.4" height="1.41" fill="#FF5252" stroke="#089981" stroke-width="0.7"/>
<path d="M577.6 309.55V321.33" stroke="#089981" stroke-width="0.85"/>
<rect x="575.9" y="317.11" width="3.4" height="0.9" fill="#FF5252" stroke="#089981" stroke-width="0.7"/>
<path d="M582.96 300.23V325.37" stroke="#089981" stroke-width="0.85"/>
<rect x="581.26" y="307.27" width="3.4" height="9.84" fill="#FF5252" stroke="#089981" stroke-width="0.7"/>
<path d="M588.31 288.46V309.02" stroke="#089981" stroke-width="0.85"/>
<rect x="586.61" y="297.6" width="3.4" height="9.32" fill="#FF5252" stroke="#089981" stroke-width="0.7"/>
<path d="M593.67 289.69V320.98" stroke="#F23645" stroke-width="0.85"/>
<rect x="591.97" y="297.25" width="3.4" height="16.35" fill="#FF5252" stroke="#F23645" stroke-width="0.7"/>
<path d="M599.03 312.19V338.55" stroke="#F23645" stroke-width="0.85"/>
<rect x="597.33" y="313.59" width="3.4" height="10.02" fill="#FF5252" stroke="#F23645" stroke-width="0.7"/>
<path d="M604.38 317.11V347.34" stroke="#F23645" stroke-width="0.85"/>
<rect x="602.68" y="323.26" width="3.4" height="16.7" fill="#FF5252" stroke="#F23645" stroke-width="0.7"/>
<path d="M609.74 303.4V344.71" stroke="#089981" stroke-width="0.85"/>
<rect x="608.04" y="303.4" width="3.4" height="36.21" fill="#FF5252" stroke="#089981" stroke-width="0.7"/>
<path d="M615.1 297.77V319.57" stroke="#F23645" stroke-width="0.85"/>
<rect x="613.4" y="303.05" width="3.4" height="10.55" fill="#FF5252" stroke="#F23645" stroke-width="0.7"/>
<path d="M620.45 306.04V324.49" stroke="#F23645" stroke-width="0.85"/>
<rect x="618.75" y="313.59" width="3.4" height="7.38" fill="#FF5252" stroke="#F23645" stroke-width="0.7"/>
<path d="M625.81 300.76V328.54" stroke="#089981" stroke-width="0.85"/>
<rect x="624.11" y="302.52" width="3.4" height="18.46" fill="#FF5252" stroke="#089981" stroke-width="0.7"/>
<path d="M631.17 294.43V315.53" stroke="#F23645" stroke-width="0.85"/>
<rect x="629.47" y="301.99" width="3.4" height="8.26" fill="#FF5252" stroke="#F23645" stroke-width="0.7"/>
<path d="M636.52 309.02V318.16" stroke="#F23645" stroke-width="0.85"/>
<rect x="634.82" y="310.25" width="3.4" height="5.27" fill="#FF5252" stroke="#F23645" stroke-width="0.7"/>
<path d="M641.88 315.53V325.55" stroke="#F23645" stroke-width="0.85"/>
<rect x="640.18" y="315.53" width="3.4" height="2.99" fill="#FF5252" stroke="#F23645" stroke-width="0.7"/>
<path d="M647.23 309.02V318.52" stroke="#089981" stroke-width="0.85"/>
<rect x="645.53" y="313.42" width="3.4" height="5.1" fill="#FF5252" stroke="#089981" stroke-width="0.7"/>
<path d="M652.59 292.15V312.89" stroke="#089981" stroke-width="0.85"/>
<rect x="650.89" y="298.83" width="3.4" height="14.06" fill="#FF5252" stroke="#089981" stroke-width="0.7"/>
<path d="M657.95 285.12V306.74" stroke="#F23645" stroke-width="0.85"/>
<rect x="656.25" y="298.48" width="3.4" height="5.98" fill="#FF5252" stroke="#F23645" stroke-width="0.7"/>
<path d="M663.3 298.48V309.02" stroke="#F23645" stroke-width="0.85"/>
<rect x="661.6" y="304.45" width="3.4" height="2.64" fill="#FF5252" stroke="#F23645" stroke-width="0.7"/>
<path d="M668.66 300.59V310.78" stroke="#089981" stroke-width="0.85"/>
<rect x="666.96" y="305.86" width="3.4" height="0.9" fill="#FF5252" stroke="#089981" stroke-width="0.7"/>
<path d="M674.02 304.45V309.73" stroke="#089981" stroke-width="0.85"/>
<rect x="672.32" y="305.51" width="3.4" height="0.9" fill="#FF5252" stroke="#089981" stroke-width="0.7"/>
<path d="M679.37 300.59V309.73" stroke="#F23645" stroke-width="0.85"/>
<rect x="677.67" y="305.86" width="3.4" height="2.99" fill="#FF5252" stroke="#F23645" stroke-width="0.7"/>
<path d="M684.73 308.85V317.81" stroke="#F23645" stroke-width="0.85"/>
<rect x="683.03" y="308.85" width="3.4" height="4.39" fill="#FF5252" stroke="#F23645" stroke-width="0.7"/>
<path d="M690.09 311.48V324.32" stroke="#F23645" stroke-width="0.85"/>
<rect x="688.39" y="312.89" width="3.4" height="9.67" fill="#FF5252" stroke="#F23645" stroke-width="0.7"/>
<path d="M695.44 315.53V324.32" stroke="#089981" stroke-width="0.85"/>
<rect x="693.74" y="319.57" width="3.4" height="2.46" fill="#FF5252" stroke="#089981" stroke-width="0.7"/>
<path d="M700.8 314.3V322.56" stroke="#089981" stroke-width="0.85"/>
<rect x="699.1" y="318.16" width="3.4" height="1.05" fill="#FF5252" stroke="#089981" stroke-width="0.7"/>
<path d="M706.16 314.3V323.44" stroke="#089981" stroke-width="0.85"/>
<rect x="704.46" y="316.76" width="3.4" height="1.76" fill="#FF5252" stroke="#089981" stroke-width="0.7"/>
<path d="M711.51 306.21V317.29" stroke="#089981" stroke-width="0.85"/>
<rect x="709.81" y="307.27" width="3.4" height="9.14" fill="#FF5252" stroke="#089981" stroke-width="0.7"/>
<path d="M716.87 246.97V311.48" stroke="#089981" stroke-width="0.85"/>
<rect x="715.17" y="248.38" width="3.4" height="58.36" fill="#FF5252" stroke="#089981" stroke-width="0.7"/>
<path d="M722.22 232.03V265.08" stroke="#F23645" stroke-width="0.85" opacity="0.6"/>
<rect x="720.52" y="247.85" width="3.4" height="1.05" fill="#FF5252" stroke="#F23645" stroke-width="0.7"/>
<path d="M727.58 238.18V263.32" stroke="#F23645" stroke-width="0.85"/>
<rect x="725.88" y="249.26" width="3.4" height="8.79" fill="#2196F3" stroke="#F23645" stroke-width="0.7"/>
<path d="M732.94 242.58V259.28" stroke="#089981" stroke-width="0.85"/>
<rect x="731.24" y="251.02" width="3.4" height="7.38" fill="#2196F3" stroke="#089981" stroke-width="0.7"/>
<path d="M738.29 232.91V250.66" stroke="#089981" stroke-width="0.85"/>
<rect x="736.59" y="247.85" width="3.4" height="2.81" fill="#2196F3" stroke="#089981" stroke-width="0.7"/>
<path d="M743.65 242.62V389.39" stroke="#F23645" stroke-width="0.85"/>
<rect x="741.95" y="247.89" width="3.4" height="80.16" fill="#2196F3" stroke="#F23645" stroke-width="0.7"/>
<path d="M749.01 322.25V345.1" stroke="#F23645" stroke-width="0.85"/>
<rect x="747.31" y="328.4" width="3.4" height="7.03" fill="#2196F3" stroke="#F23645" stroke-width="0.7"/>
<path d="M754.36 292.71V338.07" stroke="#089981" stroke-width="0.85"/>
<rect x="752.66" y="304.67" width="3.4" height="31.11" fill="#2196F3" stroke="#089981" stroke-width="0.7"/>
<path d="M759.72 269.86V308.71" stroke="#089981" stroke-width="0.85"/>
<rect x="758.02" y="285.16" width="3.4" height="18.98" fill="#2196F3" stroke="#089981" stroke-width="0.7"/>
<path d="M765.08 283.4V352.13" stroke="#F23645" stroke-width="0.85"/>
<rect x="763.38" y="285.16" width="3.4" height="41.13" fill="#2196F3" stroke="#F23645" stroke-width="0.7"/>
<path d="M770.43 302.38V327.52" stroke="#089981" stroke-width="0.85"/>
<rect x="768.73" y="307.66" width="3.4" height="18.98" fill="#2196F3" stroke="#089981" stroke-width="0.7"/>
<path d="M775.79 301.15V318.73" stroke="#F23645" stroke-width="0.85"/>
<rect x="774.09" y="307.66" width="3.4" height="8.09" fill="#2196F3" stroke="#F23645" stroke-width="0.7"/>
<path d="M781.14 312.58V336.31" stroke="#F23645" stroke-width="0.85"/>
<rect x="779.44" y="316.45" width="3.4" height="9.32" fill="#2196F3" stroke="#F23645" stroke-width="0.7"/>
<path d="M786.5 317.5V330.16" stroke="#089981" stroke-width="0.85"/>
<rect x="784.8" y="321.37" width="3.4" height="4.39" fill="#2196F3" stroke="#089981" stroke-width="0.7"/>
<path d="M791.86 317.85V326.99" stroke="#F23645" stroke-width="0.85"/>
<rect x="790.16" y="321.37" width="3.4" height="4.92" fill="#2196F3" stroke="#F23645" stroke-width="0.7"/>
<path d="M797.21 326.64V342.81" stroke="#F23645" stroke-width="0.85"/>
<rect x="795.51" y="326.64" width="3.4" height="7.03" fill="#FF5252" stroke="#F23645" stroke-width="0.7"/>
<path d="M802.57 327.52V339.3" stroke="#089981" stroke-width="0.85"/>
<rect x="800.87" y="328.4" width="3.4" height="5.27" fill="#FF5252" stroke="#089981" stroke-width="0.7"/>
<path d="M807.93 322.25V335.78" stroke="#089981" stroke-width="0.85"/>
<rect x="806.23" y="324" width="3.4" height="4.39" fill="#FF5252" stroke="#089981" stroke-width="0.7"/>
<path d="M813.28 321.37V331.91" stroke="#F23645" stroke-width="0.85"/>
<rect x="811.58" y="324" width="3.4" height="3.52" fill="#FF5252" stroke="#F23645" stroke-width="0.7"/>
<path d="M818.64 321.02V337.19" stroke="#F23645" stroke-width="0.85"/>
<rect x="816.94" y="327.52" width="3.4" height="6.15" fill="#FF5252" stroke="#F23645" stroke-width="0.7"/>
<path d="M824 334.02V358.63" stroke="#F23645" stroke-width="0.85"/>
<rect x="822.3" y="334.02" width="3.4" height="5.8" fill="#FF5252" stroke="#F23645" stroke-width="0.7"/>
<path d="M829.35 333.32V344.57" stroke="#089981" stroke-width="0.85"/>
<rect x="827.65" y="337.54" width="3.4" height="1.76" fill="#FF5252" stroke="#089981" stroke-width="0.7"/>
<path d="M834.71 328.75V338.07" stroke="#089981" stroke-width="0.85"/>
<rect x="833.01" y="332.79" width="3.4" height="4.75" fill="#FF5252" stroke="#089981" stroke-width="0.7"/>
<path d="M840.07 329.28V341.58" stroke="#F23645" stroke-width="0.85"/>
<rect x="838.37" y="332.44" width="3.4" height="6.15" fill="#FF5252" stroke="#F23645" stroke-width="0.7"/>
<path d="M845.42 310.47V349.49" stroke="#F23645" stroke-width="0.85"/>
<rect x="843.72" y="338.59" width="3.4" height="1.23" fill="#FF5252" stroke="#F23645" stroke-width="0.7"/>
<path d="M850.78 327.52V377.27" stroke="#F23645" stroke-width="0.85"/>
<rect x="849.08" y="340.35" width="3.4" height="21.45" fill="#FF5252" stroke="#F23645" stroke-width="0.7"/>
<path d="M856.13 345.98V389.92" stroke="#F23645" stroke-width="0.85"/>
<rect x="854.43" y="361.8" width="3.4" height="10.55" fill="#FF5252" stroke="#F23645" stroke-width="0.7"/>
<path d="M861.49 359.69V380.78" stroke="#089981" stroke-width="0.85"/>
<rect x="859.79" y="365.66" width="3.4" height="6.33" fill="#FF5252" stroke="#089981" stroke-width="0.7"/>
<path d="M866.85 360.04V374.1" stroke="#F23645" stroke-width="0.85"/>
<rect x="865.15" y="365.31" width="3.4" height="6.15" fill="#FF5252" stroke="#F23645" stroke-width="0.7"/>
<path d="M872.2 369.71V393.44" stroke="#F23645" stroke-width="0.85"/>
<rect x="870.5" y="371.46" width="3.4" height="21.97" fill="#FF5252" stroke="#F23645" stroke-width="0.7"/>
<path d="M877.56 386.41V393.44" stroke="#089981" stroke-width="0.85"/>
<path d="M882.92 379.38V393.44" stroke="#F23645" stroke-width="0.85" opacity="0.6"/>
<path d="M888.27 382.01V393.44" stroke="#089981" stroke-width="0.85"/>
<rect x="886.57" y="387.29" width="3.4" height="6.15" fill="#FF5252" stroke="#089981" stroke-width="0.7"/>
<path d="M893.63 379.02V393.44" stroke="#F23645" stroke-width="0.85"/>
<rect x="891.93" y="387.29" width="3.4" height="6.15" fill="#FF5252" stroke="#F23645" stroke-width="0.7"/>
<path d="M898.99 380.25V393.44" stroke="#F23645" stroke-width="0.85"/>
<path d="M904.34 379.02V393.44" stroke="#089981" stroke-width="0.85"/>
<path d="M909.7 381.13V393.44" stroke="#089981" stroke-width="0.85"/>
<rect x="908" y="382.89" width="3.4" height="10.55" fill="#FF5252" stroke="#089981" stroke-width="0.7"/>
<path d="M915.05 372.34V393.44" stroke="#F23645" stroke-width="0.85"/>
<rect x="913.35" y="382.89" width="3.4" height="10.55" fill="#FF5252" stroke="#F23645" stroke-width="0.7"/>
</g>
<g filter="url(#sh2)"><path d="M209.3 51H283.3" stroke="#E8262C" stroke-width="2" stroke-linecap="round"/><text x="209.4" y="46.9" font-size="14.3" font-weight="bold" fill="#FF3A3A" stroke="#fff" stroke-width="5.6" stroke-linejoin="round" paint-order="stroke" textLength="71.2" lengthAdjust="spacingAndGlyphs">Stop Loss</text></g>
<g filter="url(#sh2)"><path d="M164.5 156.8H203.5" stroke="#E8262C" stroke-width="2" stroke-linecap="round"/><text x="166.2" y="152.8" font-size="14.3" font-weight="bold" fill="#2E9E2E" stroke="#fff" stroke-width="5.6" stroke-linejoin="round" paint-order="stroke" textLength="37" lengthAdjust="spacingAndGlyphs">Enter</text></g>
<g filter="url(#sh2)"><path d="M746 370.2H775.5" stroke="#E8262C" stroke-width="2" stroke-linecap="round"/><text x="745.8" y="365.6" font-size="14.3" font-weight="bold" fill="#1414FF" stroke="#fff" stroke-width="5.6" stroke-linejoin="round" paint-order="stroke" textLength="26.2" lengthAdjust="spacingAndGlyphs">Exit</text></g>
<circle cx="47" cy="33" r="3.5" fill="#129E98"/><circle cx="43" cy="37.3" r="4.1" fill="#fff"/><circle cx="43" cy="37.3" r="3.6" fill="#F7931A"/>
<text x="43" y="39.05" font-size="4.6" fill="#fff" font-weight="bold" text-anchor="middle">B</text>
<text x="47.9" y="33.59" font-size="3.6" fill="#fff" font-weight="bold" text-anchor="middle">T</text>
<text x="53.5" y="39.15" font-size="10.2" fill="#131722" textLength="29.6" lengthAdjust="spacingAndGlyphs" stroke="#131722" stroke-width="0.1">Bitcoin</text>
<text x="87.8" y="39.15" font-size="10.2" fill="#131722" textLength="3.7" lengthAdjust="spacingAndGlyphs" stroke="#131722" stroke-width="0.1">/</text>
<text x="95.2" y="39.15" font-size="10.2" fill="#131722" textLength="38" lengthAdjust="spacingAndGlyphs" stroke="#131722" stroke-width="0.1">TetherUS</text>
<text x="137" y="39.15" font-size="10.2" fill="#131722" textLength="49" lengthAdjust="spacingAndGlyphs" stroke="#131722" stroke-width="0.1">PERPETUAL</text>
<text x="189.3" y="39.15" font-size="10.2" fill="#131722" textLength="46" lengthAdjust="spacingAndGlyphs" stroke="#131722" stroke-width="0.1">CONTRACT</text>
<text x="238.2" y="39.15" font-size="10.2" fill="#131722" textLength="20" lengthAdjust="spacingAndGlyphs" stroke="#131722" stroke-width="0.1">· 1h ·</text>
<text x="261.3" y="39.15" font-size="10.2" fill="#131722" textLength="36.2" lengthAdjust="spacingAndGlyphs" stroke="#131722" stroke-width="0.1">BINANCE</text>
<circle cx="313" cy="35.5" r="4.4" fill="#D1ECE6"/><circle cx="313" cy="35.5" r="2.2" fill="#089981"/>
<text x="328.5" y="38.46" font-size="8" fill="#4A4D57" textLength="34" lengthAdjust="spacingAndGlyphs">O<tspan fill="#F23645">26809.4</tspan></text>
<text x="366" y="38.46" font-size="8" fill="#4A4D57" textLength="33.5" lengthAdjust="spacingAndGlyphs">H<tspan fill="#F23645">26809.5</tspan></text>
<text x="402.8" y="38.46" font-size="8" fill="#4A4D57" textLength="32.7" lengthAdjust="spacingAndGlyphs">L<tspan fill="#F23645">26772.3</tspan></text>
<text x="439" y="38.46" font-size="8" fill="#4A4D57" textLength="33.5" lengthAdjust="spacingAndGlyphs">C<tspan fill="#F23645">26782.0</tspan></text>
<text x="476" y="38.46" font-size="8" fill="#F23645" textLength="51" lengthAdjust="spacingAndGlyphs" stroke="#F23645" stroke-width="0.1">−27.4 (−0.10%)</text>
<rect x="39.5" y="45.5" width="37" height="14" rx="2" fill="#fff" stroke="#F23645" stroke-width="0.7"/>
<text x="43.8" y="55.54" font-size="8.2" fill="#F23645" textLength="27.6" lengthAdjust="spacingAndGlyphs" stroke="#F23645" stroke-width="0.1">26781.9</text>
<text x="82" y="55.06" font-size="6.6" fill="#131722" textLength="7.9" lengthAdjust="spacingAndGlyphs" stroke="#131722" stroke-width="0.1">0.1</text>
<rect x="95.8" y="45.5" width="37.2" height="14" rx="2" fill="#fff" stroke="#2962FF" stroke-width="0.7"/>
<text x="100.9" y="55.54" font-size="8.2" fill="#2962FF" textLength="27.8" lengthAdjust="spacingAndGlyphs" stroke="#2962FF" stroke-width="0.1">26782.0</text>
<path d="M34 389.2H994" stroke="#E0E3EB" stroke-width="1"/>
<g clip-path="url(#cpInd)">
<rect x="34" y="389.2" width="376.2" height="112.5" fill="#BCDFFB"/>
<rect x="410.2" y="389.2" width="547.3" height="112.5" fill="#FFCBCB"/>
<path d="M74.1 389.2V501.7M138.38 389.2V501.7M202.65 389.2V501.7M266.93 389.2V501.7M331.21 389.2V501.7M395.49 389.2V501.7M459.76 389.2V501.7M524.04 389.2V501.7M588.32 389.2V501.7M652.59 389.2V501.7M716.87 389.2V501.7M781.15 389.2V501.7M845.42 389.2V501.7M909.7 389.2V501.7" stroke="rgba(42,46,57,0.045)" stroke-width="1" fill="none"/>
<path d="M34 400.5H957.5" stroke="#64A8F0" stroke-width="0.75" stroke-opacity="0.7" stroke-dasharray="1 1.2" fill="none"/>
<path d="M34 417.3H957.5" stroke="#4C9BEF" stroke-width="0.75" stroke-opacity="0.7" stroke-dasharray="1 1.2" fill="none"/>
<path d="M34 469.2H957.5" stroke="#F0616A" stroke-width="0.75" stroke-opacity="0.7" stroke-dasharray="1 1.2" fill="none"/>
<path d="M34 484.9H957.5" stroke="#F0616A" stroke-width="0.75" stroke-opacity="0.7" stroke-dasharray="1 1.2" fill="none"/>
<path d="M36.61 442.8V434.75M41.96 442.8V434.39M47.32 442.8V434.04M52.67 442.8V433.69M58.03 442.8V433.34M63.39 442.8V432.99M68.74 442.8V432.46M95.53 442.8V427.19M100.88 442.8V413.12M106.24 442.8V412.77M111.59 442.8V411.37M116.95 442.8V409.61M122.31 442.8V408.38M127.66 442.8V407.5M133.02 442.8V406.45M138.38 442.8V418.4M143.73 442.8V429.3M149.09 442.8V428.59M154.45 442.8V428.24M159.8 442.8V431.58M165.16 442.8V435.98M170.52 442.8V439.49M727.58 442.8V439.84M732.94 442.8V428.95M738.29 442.8V414.53M743.65 442.8V424.55M749.01 442.8V424.02M754.36 442.8V424.55M759.72 442.8V425.08M765.08 442.8V426.31M770.43 442.8V428.59M775.79 442.8V433.34" stroke="#2196F3" stroke-width="1.7" fill="none"/>
<path d="M208.01 442.8V445.82M213.37 442.8V465.16M218.72 442.8V483.61M224.08 442.8V484.49M229.44 442.8V484.67M234.79 442.8V484.84M240.15 442.8V485.2M245.5 442.8V485.55M250.86 442.8V485.9M256.22 442.8V482.73M406.2 442.8V477.46M411.55 442.8V479.22M416.91 442.8V481.86M422.27 442.8V482.38M427.62 442.8V482.73M432.98 442.8V483.61M438.34 442.8V487.13M443.69 442.8V487.66M449.05 442.8V482.73M454.4 442.8V481.33M459.76 442.8V478.87M465.12 442.8V477.81M470.47 442.8V477.11M475.83 442.8V476.05M481.19 442.8V464.28M486.54 442.8V451.97M491.9 442.8V476.58M497.26 442.8V481.33M502.61 442.8V480.62M507.97 442.8V480.98M513.32 442.8V481.33M518.68 442.8V482.03M524.04 442.8V482.38M529.39 442.8V482.38M534.75 442.8V462.52M797.21 442.8V447.93M802.57 442.8V448.28M807.93 442.8V448.63M813.28 442.8V448.98M818.64 442.8V449.34M824 442.8V462.34M829.35 442.8V463.75M834.71 442.8V464.45M840.07 442.8V459.71M845.42 442.8V457.95M850.78 442.8V456.91M856.13 442.8V467.46M861.49 442.8V477.66M866.85 442.8V476.25M872.2 442.8V477.66M877.56 442.8V484.16M882.92 442.8V483.63M888.27 442.8V483.63M893.63 442.8V484.16M898.99 442.8V481.88M904.34 442.8V475.37M909.7 442.8V472.38M915.05 442.8V467.11M920.41 442.8V462.19M925.77 442.8V477.66M931.12 442.8V478.01M936.48 442.8V476.6M941.84 442.8V488.55M947.19 442.8V489.43M952.55 442.8V489.96M957.91 442.8V490.31" stroke="#FF5252" stroke-width="1.7" fill="none"/>
<path d="M36.61 434.75L41.96 434.39L47.32 434.04L52.67 433.69L58.03 433.34L63.39 432.99L68.74 432.46L74.1 442.8L79.46 442.8L84.81 442.8L90.17 442.8L95.53 427.19L100.88 413.12L106.24 412.77L111.59 411.37L116.95 409.61L122.31 408.38L127.66 407.5L133.02 406.45L138.38 418.4L143.73 429.3L149.09 428.59L154.45 428.24L159.8 431.58L165.16 435.98L170.52 439.49L175.87 442.8L181.23 442.8L186.58 442.8L191.94 442.8L197.3 442.8L202.65 442.8" stroke="#2196F3" stroke-width="2.1" fill="none" stroke-linejoin="round"/>
<path d="M202.65 442.8L208.01 445.82L213.37 465.16L218.72 483.61L224.08 484.49L229.44 484.67L234.79 484.84L240.15 485.2L245.5 485.55L250.86 485.9L256.22 482.73L261.57 442.8L266.93 442.8L272.29 442.8L277.64 442.8L283 442.8L288.36 442.8L293.71 442.8L299.07 442.8L304.43 442.8L309.78 442.8L315.14 442.8L320.49 442.8L325.85 442.8L331.21 442.8L336.56 442.8L341.92 442.8L347.28 442.8L352.63 442.8L357.99 442.8L363.35 442.8L368.7 442.8L374.06 442.8L379.41 442.8L384.77 442.8L390.13 442.8L395.48 442.8L400.84 442.8L406.2 477.46L411.55 479.22L416.91 481.86L422.27 482.38L427.62 482.73L432.98 483.61L438.34 487.13L443.69 487.66L449.05 482.73L454.4 481.33L459.76 478.87L465.12 477.81L470.47 477.11L475.83 476.05L481.19 464.28L486.54 451.97L491.9 476.58L497.26 481.33L502.61 480.62L507.97 480.98L513.32 481.33L518.68 482.03L524.04 482.38L529.39 482.38L534.75 462.52L540.11 442.8L545.46 442.8L550.82 442.8L556.18 442.8L561.53 442.8L566.89 442.8L572.25 442.8L577.6 442.8L582.96 442.8L588.31 442.8L593.67 442.8L599.03 442.8L604.38 442.8L609.74 442.8L615.1 442.8L620.45 442.8L625.81 442.8L631.17 442.8L636.52 442.8L641.88 442.8L647.23 442.8L652.59 442.8L657.95 442.8L663.3 442.8L668.66 442.8L674.02 442.8L679.37 442.8L684.73 442.8L690.09 442.8L695.44 442.8L700.8 442.8L706.16 442.8L711.51 442.8L716.87 442.8L722.22 442.8" stroke="#FF5252" stroke-width="2.1" fill="none" stroke-linejoin="round"/>
<path d="M722.22 442.8L727.58 439.84L732.94 428.95L738.29 414.53L743.65 424.55L749.01 424.02L754.36 424.55L759.72 425.08L765.08 426.31L770.43 428.59L775.79 433.34L781.14 442.8L786.5 442.8L791.86 442.8" stroke="#2196F3" stroke-width="2.1" fill="none" stroke-linejoin="round"/>
<path d="M791.86 442.8L797.21 447.93L802.57 448.28L807.93 448.63L813.28 448.98L818.64 449.34L824 462.34L829.35 463.75L834.71 464.45L840.07 459.71L845.42 457.95L850.78 456.91L856.13 467.46L861.49 477.66L866.85 476.25L872.2 477.66L877.56 484.16L882.92 483.63L888.27 483.63L893.63 484.16L898.99 481.88L904.34 475.37L909.7 472.38L915.05 467.11L920.41 462.19L925.77 477.66L931.12 478.01L936.48 476.6L941.84 488.55L947.19 489.43L952.55 489.96L957.91 490.31" stroke="#FF5252" stroke-width="2.1" fill="none" stroke-linejoin="round"/>
<path d="M34 434.75L36.61 434.75" stroke="#2196F3" stroke-width="2"/>
<rect x="93" y="396.9" width="15.6" height="11.3" rx="1.6" fill="#2196F3"/><path d="M99.2 408L100.8 410L102.4 408Z" fill="#2196F3"/><text x="100.8" y="405.12" font-size="6.9" fill="#fff" text-anchor="middle" stroke="#fff" stroke-width="0.28">Red</text>
<rect x="71.7" y="448.2" width="15.6" height="11.3" rx="1.6" fill="#2196F3"/><path d="M77.9 448.4L79.5 446.4L81.1 448.4Z" fill="#2196F3"/><text x="79.5" y="456.42" font-size="6.9" fill="#fff" text-anchor="middle" stroke="#fff" stroke-width="0.28">Add</text>
<rect x="173.4" y="448.2" width="15.6" height="11.3" rx="1.6" fill="#2196F3"/><path d="M179.6 448.4L181.2 446.4L182.8 448.4Z" fill="#2196F3"/><text x="181.2" y="456.42" font-size="6.9" fill="#fff" text-anchor="middle" stroke="#fff" stroke-width="0.28">Add</text>
<rect x="200.4" y="426.7" width="15.6" height="11.3" rx="1.6" fill="#FF5252"/><path d="M206.6 437.8L208.2 439.8L209.8 437.8Z" fill="#FF5252"/><text x="208.2" y="434.92" font-size="6.9" fill="#fff" text-anchor="middle" stroke="#fff" stroke-width="0.28">Sell</text>
<rect x="259.5" y="426.7" width="15.6" height="11.3" rx="1.6" fill="#FF5252"/><path d="M265.7 437.8L267.3 439.8L268.9 437.8Z" fill="#FF5252"/><text x="267.3" y="434.92" font-size="6.9" fill="#fff" text-anchor="middle" stroke="#fff" stroke-width="0.28">Add</text>
<rect x="210.7" y="490.5" width="15.6" height="11.3" rx="1.6" fill="#FF5252"/><path d="M216.9 490.7L218.5 488.7L220.1 490.7Z" fill="#FF5252"/><text x="218.5" y="498.72" font-size="6.9" fill="#fff" text-anchor="middle" stroke="#fff" stroke-width="0.28">Red</text>
<rect x="221.5" y="490.5" width="15.6" height="11.3" rx="1.6" fill="#FF5252"/><path d="M227.7 490.7L229.3 488.7L230.9 490.7Z" fill="#FF5252"/><text x="229.3" y="498.72" font-size="6.9" fill="#fff" text-anchor="middle" stroke="#fff" stroke-width="0.28">Red</text>
<rect x="232.8" y="490.5" width="15.6" height="11.3" rx="1.6" fill="#FF5252"/><path d="M239 490.7L240.6 488.7L242.2 490.7Z" fill="#FF5252"/><text x="240.6" y="498.72" font-size="6.9" fill="#fff" text-anchor="middle" stroke="#fff" stroke-width="0.28">Red</text>
<rect x="398.4" y="483.5" width="15.6" height="11.3" rx="1.6" fill="#FF5252"/><path d="M404.6 483.7L406.2 481.7L407.8 483.7Z" fill="#FF5252"/><text x="406.2" y="491.72" font-size="6.9" fill="#fff" text-anchor="middle" stroke="#fff" stroke-width="0.28">Red</text>
<rect x="430.4" y="492.2" width="15.6" height="11.3" rx="1.6" fill="#FF5252"/><path d="M436.6 492.4L438.2 490.4L439.8 492.4Z" fill="#FF5252"/><text x="438.2" y="500.42" font-size="6.9" fill="#fff" text-anchor="middle" stroke="#fff" stroke-width="0.28">Red</text>
<rect x="484.4" y="482.7" width="15.6" height="11.3" rx="1.6" fill="#FF5252"/><path d="M490.6 482.9L492.2 480.9L493.8 482.9Z" fill="#FF5252"/><text x="492.2" y="490.92" font-size="6.9" fill="#fff" text-anchor="middle" stroke="#fff" stroke-width="0.28">Red</text>
<rect x="537.5" y="426.7" width="15.6" height="11.3" rx="1.6" fill="#FF5252"/><path d="M543.7 437.8L545.3 439.8L546.9 437.8Z" fill="#FF5252"/><text x="545.3" y="434.92" font-size="6.9" fill="#fff" text-anchor="middle" stroke="#fff" stroke-width="0.28">Add</text>
<rect x="730.4" y="399.2" width="15.6" height="11.3" rx="1.6" fill="#2196F3"/><path d="M736.6 410.3L738.2 412.3L739.8 410.3Z" fill="#2196F3"/><text x="738.2" y="407.42" font-size="6.9" fill="#fff" text-anchor="middle" stroke="#fff" stroke-width="0.28">Red</text>
<rect x="719.4" y="448.2" width="15.6" height="11.3" rx="1.6" fill="#2196F3"/><path d="M725.6 448.4L727.2 446.4L728.8 448.4Z" fill="#2196F3"/><text x="727.2" y="456.42" font-size="6.9" fill="#fff" text-anchor="middle" stroke="#fff" stroke-width="0.28">Buy</text>
<rect x="778.7" y="448.2" width="15.6" height="11.3" rx="1.6" fill="#2196F3"/><path d="M784.9 448.4L786.5 446.4L788.1 448.4Z" fill="#2196F3"/><text x="786.5" y="456.42" font-size="6.9" fill="#fff" text-anchor="middle" stroke="#fff" stroke-width="0.28">Add</text>
<rect x="789.4" y="426.7" width="15.6" height="11.3" rx="1.6" fill="#FF5252"/><path d="M795.6 437.8L797.2 439.8L798.8 437.8Z" fill="#FF5252"/><text x="797.2" y="434.92" font-size="6.9" fill="#fff" text-anchor="middle" stroke="#fff" stroke-width="0.28">Sell</text>
<rect x="853.5" y="483.6" width="15.6" height="11.3" rx="1.6" fill="#FF5252"/><path d="M859.7 483.8L861.3 481.8L862.9 483.8Z" fill="#FF5252"/><text x="861.3" y="491.82" font-size="6.9" fill="#fff" text-anchor="middle" stroke="#fff" stroke-width="0.28">Red</text>
<rect x="917.4" y="483.6" width="15.6" height="11.3" rx="1.6" fill="#FF5252"/><path d="M923.6 483.8L925.2 481.8L926.8 483.8Z" fill="#FF5252"/><text x="925.2" y="491.82" font-size="6.9" fill="#fff" text-anchor="middle" stroke="#fff" stroke-width="0.28">Red</text>
<rect x="933.7" y="496.8" width="15.6" height="11.3" rx="1.6" fill="#FF5252"/><path d="M939.9 497L941.5 495L943.1 497Z" fill="#FF5252"/><text x="941.5" y="505.02" font-size="6.9" fill="#fff" text-anchor="middle" stroke="#fff" stroke-width="0.28">Red</text>
<rect x="944.5" y="494.4" width="15.6" height="11.3" rx="1.6" fill="#FF5252"/><path d="M950.7 494.6L952.3 492.6L953.9 494.6Z" fill="#FF5252"/><text x="952.3" y="502.62" font-size="6.9" fill="#fff" text-anchor="middle" stroke="#fff" stroke-width="0.28">Red</text>
<rect x="36" y="392.4" width="453.2" height="14" rx="1" fill="rgba(255,255,255,0.5)"/>
<text x="39.7" y="402.51" font-size="7" fill="#40434E" textLength="202.6" lengthAdjust="spacingAndGlyphs" stroke="#40434E" stroke-width="0.1">AAFLI 21 1 5 SMA 240 21 1 5 close NO FILTER HIGHER TIM</text>
<text x="242.6" y="402.51" font-size="7" fill="#40434E" stroke="#40434E" stroke-width="0.1">EFRAME 40 65</text>
<text x="311.3" y="402.51" font-size="7" fill="#40434E" textLength="24.8" lengthAdjust="spacingAndGlyphs" stroke="#40434E" stroke-width="0.1">-40 -65</text>
<text x="341" y="402.51" font-size="7" fill="#F23645" textLength="26.5" lengthAdjust="spacingAndGlyphs" stroke="#F23645" stroke-width="0.1">0.0 0.0</text>
<text x="372.6" y="402.51" font-size="7" fill="#131722" font-weight="bold" text-anchor="middle">∅</text>
<text x="381.17" y="402.51" font-size="7" fill="#131722" font-weight="bold" text-anchor="middle">∅</text>
<text x="389.74" y="402.51" font-size="7" fill="#131722" font-weight="bold" text-anchor="middle">∅</text>
<text x="398.31" y="402.51" font-size="7" fill="#131722" font-weight="bold" text-anchor="middle">∅</text>
<text x="406.88" y="402.51" font-size="7" fill="#131722" font-weight="bold" text-anchor="middle">∅</text>
<text x="415.45" y="402.51" font-size="7" fill="#131722" font-weight="bold" text-anchor="middle">∅</text>
<text x="424.02" y="402.51" font-size="7" fill="#131722" font-weight="bold" text-anchor="middle">∅</text>
<text x="432.59" y="402.51" font-size="7" fill="#131722" font-weight="bold" text-anchor="middle">∅</text>
<text x="441.16" y="402.51" font-size="7" fill="#131722" font-weight="bold" text-anchor="middle">∅</text>
<text x="449.73" y="402.51" font-size="7" fill="#131722" font-weight="bold" text-anchor="middle">∅</text>
<text x="458.3" y="402.51" font-size="7" fill="#131722" font-weight="bold" text-anchor="middle">∅</text>
<text x="466.87" y="402.51" font-size="7" fill="#131722" font-weight="bold" text-anchor="middle">∅</text>
<text x="475.44" y="402.51" font-size="7" fill="#131722" font-weight="bold" text-anchor="middle">∅</text>
<text x="484.01" y="402.51" font-size="7" fill="#131722" font-weight="bold" text-anchor="middle">∅</text>
<g stroke="#fff" stroke-opacity="0.55" stroke-width="1.3" stroke-linejoin="round" paint-order="stroke"><path d="M41.4 484.2H48.5V493.4H45V487.7H41.4Z" fill="#131722"/><circle cx="51.2" cy="486.1" r="1.85" fill="#131722"/><path d="M52 493.4L55.6 484.2H59.6L56 493.4Z" fill="#131722"/><text x="64.2" y="493.48" font-size="12.8" fill="#131722" font-weight="bold" textLength="68" lengthAdjust="spacingAndGlyphs">TradingView</text></g>
<rect x="933.3" y="484.2" width="14.4" height="14" rx="2.2" fill="#fff" filter="url(#sh2)"/><path d="M937.6 488.6L940 491.2L937.6 493.8M940.6 488.6L943 491.2L940.6 493.8" stroke="#131722" stroke-width="1" fill="none"/>
</g>
<g filter="url(#sh)"><ellipse cx="200.6" cy="440.2" rx="40.1" ry="36.8" fill="none" stroke="#F2474E" stroke-width="1.7"/></g>
<g filter="url(#sh)"><path d="M251.3 393.4H298.8A11.2 11.2 0 0 1 310 404.6V406.6A11.2 11.2 0 0 1 298.8 417.8H251.3A11.2 11.2 0 0 1 245.6 416.2L215.6 426.5L240.6 409.6A11.2 11.2 0 0 1 240.1 406.6V404.6A11.2 11.2 0 0 1 251.3 393.4Z" fill="#fff" stroke="#F2474E" stroke-width="1.5" stroke-linejoin="round"/></g>
<text x="274.8" y="407.72" font-size="9" fill="#000" font-weight="bold" text-anchor="middle" textLength="54.5" lengthAdjust="spacingAndGlyphs" direction="rtl">سیگنال فروش</text>
<g filter="url(#sh)"><path d="M110.7 482.7H142.5L190 445.4L156.3 488.85A16 16 0 0 1 159.7 498.7V502.7A16 16 0 0 1 143.7 518.7H110.7A16 16 0 0 1 94.7 502.7V498.7A16 16 0 0 1 110.7 482.7Z" fill="#fff" stroke="#F2474E" stroke-width="1.5" stroke-linejoin="round"/></g>
<text x="128.1" y="496.82" font-size="9" fill="#000" font-weight="bold" text-anchor="middle" textLength="38" lengthAdjust="spacingAndGlyphs" direction="rtl">کراس خط</text>
<text x="126.9" y="510.62" font-size="9" fill="#000" font-weight="bold" text-anchor="middle" textLength="44.8" lengthAdjust="spacingAndGlyphs" direction="rtl">آبی به قرمز</text>
<g clip-path="url(#cpAxis)"><defs><clipPath id="cpAxis"><rect x="957.5" y="26" width="36.5" height="363.2"/></clipPath></defs>
<text x="963" y="81.44" font-size="7.5" fill="#131722" textLength="25" lengthAdjust="spacingAndGlyphs" stroke="#131722" stroke-width="0.1">29600.0</text>
<text x="963" y="105.03" font-size="7.5" fill="#131722" textLength="25" lengthAdjust="spacingAndGlyphs" stroke="#131722" stroke-width="0.1">29400.0</text>
<text x="963" y="128.63" font-size="7.5" fill="#131722" textLength="25" lengthAdjust="spacingAndGlyphs" stroke="#131722" stroke-width="0.1">29200.0</text>
<text x="963" y="152.24" font-size="7.5" fill="#131722" textLength="25" lengthAdjust="spacingAndGlyphs" stroke="#131722" stroke-width="0.1">29000.0</text>
<text x="963" y="175.84" font-size="7.5" fill="#131722" textLength="25" lengthAdjust="spacingAndGlyphs" stroke="#131722" stroke-width="0.1">28800.0</text>
<text x="963" y="199.44" font-size="7.5" fill="#131722" textLength="25" lengthAdjust="spacingAndGlyphs" stroke="#131722" stroke-width="0.1">28600.0</text>
<text x="963" y="223.04" font-size="7.5" fill="#131722" textLength="25" lengthAdjust="spacingAndGlyphs" stroke="#131722" stroke-width="0.1">28400.0</text>
<text x="963" y="246.64" font-size="7.5" fill="#131722" textLength="25" lengthAdjust="spacingAndGlyphs" stroke="#131722" stroke-width="0.1">28200.0</text>
<text x="963" y="270.24" font-size="7.5" fill="#131722" textLength="25" lengthAdjust="spacingAndGlyphs" stroke="#131722" stroke-width="0.1">28000.0</text>
<text x="963" y="293.83" font-size="7.5" fill="#131722" textLength="25" lengthAdjust="spacingAndGlyphs" stroke="#131722" stroke-width="0.1">27800.0</text>
<text x="963" y="317.44" font-size="7.5" fill="#131722" textLength="25" lengthAdjust="spacingAndGlyphs" stroke="#131722" stroke-width="0.1">27600.0</text>
<text x="963" y="341.04" font-size="7.5" fill="#131722" textLength="25" lengthAdjust="spacingAndGlyphs" stroke="#131722" stroke-width="0.1">27400.0</text>
<text x="963" y="364.64" font-size="7.5" fill="#131722" textLength="25" lengthAdjust="spacingAndGlyphs" stroke="#131722" stroke-width="0.1">27200.0</text>
<rect x="957.5" y="44.5" width="34" height="8.5" rx="1" fill="#F23645"/><text x="963" y="51.54" font-size="7.5" fill="#fff" textLength="25" lengthAdjust="spacingAndGlyphs" stroke="#fff" stroke-width="0.1">29849.7</text>
<rect x="957.5" y="26" width="36.5" height="20.2" fill="#fff"/>
<rect x="957.5" y="52.8" width="34" height="9.7" rx="1" fill="#F23645"/><text x="963" y="60.44" font-size="7.5" fill="#fff" textLength="25" lengthAdjust="spacingAndGlyphs" stroke="#fff" stroke-width="0.1">29698.7</text>
<rect x="957.5" y="62.5" width="34" height="9.7" rx="1" fill="#787B86"/><text x="963" y="70.13" font-size="7.5" fill="#fff" textLength="25" lengthAdjust="spacingAndGlyphs" stroke="#fff" stroke-width="0.1">29698.2</text>
<rect x="957.5" y="106.6" width="34" height="9.8" rx="1" fill="#787B86"/><text x="963" y="114.28" font-size="7.5" fill="#fff" textLength="25" lengthAdjust="spacingAndGlyphs" stroke="#fff" stroke-width="0.1">29269.3</text>
<rect x="957.5" y="116.4" width="34" height="9.8" rx="1" fill="#787B86"/><text x="963" y="124.09" font-size="7.5" fill="#fff" textLength="25" lengthAdjust="spacingAndGlyphs" stroke="#fff" stroke-width="0.1">29235.5</text>
<rect x="957.5" y="144.5" width="34" height="9.9" rx="1" fill="#787B86"/><text x="963" y="152.23" font-size="7.5" fill="#fff" textLength="25" lengthAdjust="spacingAndGlyphs" stroke="#fff" stroke-width="0.1">28939.6</text>
<rect x="957.5" y="154.4" width="34" height="10.2" rx="1" fill="#089981"/><text x="963" y="162.28" font-size="7.5" fill="#fff" textLength="25" lengthAdjust="spacingAndGlyphs" stroke="#fff" stroke-width="0.1">28909.3</text>
<rect x="957.5" y="180.1" width="34" height="9.9" rx="1" fill="#F23645"/><text x="963" y="187.84" font-size="7.5" fill="#fff" textLength="25" lengthAdjust="spacingAndGlyphs" stroke="#fff" stroke-width="0.1">28695.1</text>
<rect x="957.5" y="213.7" width="34" height="10.1" rx="1" fill="#089981"/><text x="963" y="221.53" font-size="7.5" fill="#fff" textLength="25" lengthAdjust="spacingAndGlyphs" stroke="#fff" stroke-width="0.1">28410.4</text>
<rect x="957.5" y="264.5" width="34" height="9.9" rx="1" fill="#F23645"/><text x="963" y="272.24" font-size="7.5" fill="#fff" textLength="25" lengthAdjust="spacingAndGlyphs" stroke="#fff" stroke-width="0.1">27978.7</text>
<rect x="957.5" y="290.1" width="34" height="9.9" rx="1" fill="#F23645"/><text x="963" y="297.84" font-size="7.5" fill="#fff" textLength="25" lengthAdjust="spacingAndGlyphs" stroke="#fff" stroke-width="0.1">27763.8</text>
<rect x="957.5" y="319.2" width="34" height="10.4" rx="1" fill="#787B86"/><text x="963" y="327.19" font-size="7.5" fill="#fff" textLength="25" lengthAdjust="spacingAndGlyphs" stroke="#fff" stroke-width="0.1">27516.9</text>
<rect x="957.5" y="329.6" width="34" height="10.1" rx="1" fill="#F23645"/><text x="963" y="337.44" font-size="7.5" fill="#fff" textLength="25" lengthAdjust="spacingAndGlyphs" stroke="#fff" stroke-width="0.1">27459.8</text>
<rect x="957.5" y="362.9" width="34" height="10.6" rx="1" fill="#787B86"/><text x="963" y="370.99" font-size="7.5" fill="#fff" textLength="25" lengthAdjust="spacingAndGlyphs" stroke="#fff" stroke-width="0.1">27146.2</text>
<rect x="957.5" y="373.5" width="34" height="9.9" rx="1" fill="#089981"/><text x="963" y="381.24" font-size="7.5" fill="#fff" textLength="25" lengthAdjust="spacingAndGlyphs" stroke="#fff" stroke-width="0.1">27131.8</text>
<rect x="957.5" y="383.4" width="34" height="10" rx="1" fill="#089981"/><text x="963" y="391.19" font-size="7.5" fill="#fff" textLength="25" lengthAdjust="spacingAndGlyphs" stroke="#fff" stroke-width="0.1">27129.8</text>
</g>
<rect x="960.4" y="28.8" width="30.6" height="14.3" rx="2" fill="#fff" stroke="#E0E3EB" stroke-width="0.7"/>
<text x="963" y="38.51" font-size="7" fill="#131722" textLength="16.2" lengthAdjust="spacingAndGlyphs" stroke="#131722" stroke-width="0.1">USDT</text>
<path d="M985.3 35.4L987 37L988.7 35.4" stroke="#131722" stroke-width="0.9" fill="none"/>
<g clip-path="url(#cpIA)"><text x="962.3" y="393.31" font-size="7" fill="#131722" stroke="#131722" stroke-width="0.1">80.0</text></g>
<g clip-path="url(#cpIA)"><text x="962.3" y="419.41" font-size="7" fill="#131722" stroke="#131722" stroke-width="0.1">40.0</text></g>
<g clip-path="url(#cpIA)"><text x="962.3" y="445.41" font-size="7" fill="#131722" stroke="#131722" stroke-width="0.1">0.0</text></g>
<g clip-path="url(#cpIA)"><text x="962.6" y="471.41" font-size="7" fill="#131722" stroke="#131722" stroke-width="0.1">−40.0</text></g>
<g clip-path="url(#cpIA)"><text x="962.6" y="497.71" font-size="7" fill="#131722" stroke="#131722" stroke-width="0.1">−80.0</text></g>
<defs><clipPath id="cpIA"><rect x="957.5" y="389.4" width="36.5" height="112"/></clipPath></defs>
<rect x="958" y="474.9" width="25.6" height="9.6" rx="1" fill="#fff" stroke="#FF5252" stroke-width="0.7"/>
<text x="962.6" y="482.38" font-size="7.5" fill="#FF5252" textLength="17.2" lengthAdjust="spacingAndGlyphs" stroke="#FF5252" stroke-width="0.1">−72.1</text>
<rect x="958" y="485.3" width="25.6" height="9.6" rx="1" fill="#fff" stroke="#FF5252" stroke-width="0.7"/>
<text x="962.6" y="492.79" font-size="7.5" fill="#FF5252" textLength="17.2" lengthAdjust="spacingAndGlyphs" stroke="#FF5252" stroke-width="0.1">−72.1</text>
<text x="74.1" y="513.12" font-size="7.6" fill="#131722" text-anchor="middle" stroke="#131722" stroke-width="0.1">12:00</text>
<text x="138.38" y="513.12" font-size="7.6" fill="#131722" text-anchor="middle" stroke="#131722" stroke-width="0.1">6</text>
<text x="202.65" y="513.12" font-size="7.6" fill="#131722" text-anchor="middle" stroke="#131722" stroke-width="0.1">12:00</text>
<text x="266.93" y="513.12" font-size="7.6" fill="#131722" text-anchor="middle" stroke="#131722" stroke-width="0.1">7</text>
<text x="331.21" y="513.12" font-size="7.6" fill="#131722" text-anchor="middle" stroke="#131722" stroke-width="0.1">12:00</text>
<text x="395.49" y="513.12" font-size="7.6" fill="#131722" text-anchor="middle" stroke="#131722" stroke-width="0.1">8</text>
<text x="459.76" y="513.12" font-size="7.6" fill="#131722" text-anchor="middle" stroke="#131722" stroke-width="0.1">12:00</text>
<text x="524.04" y="513.12" font-size="7.6" fill="#131722" text-anchor="middle" stroke="#131722" stroke-width="0.1">9</text>
<text x="588.32" y="513.12" font-size="7.6" fill="#131722" text-anchor="middle" stroke="#131722" stroke-width="0.1">12:00</text>
<text x="652.59" y="513.12" font-size="7.6" fill="#131722" text-anchor="middle" stroke="#131722" stroke-width="0.1">10</text>
<text x="716.87" y="513.12" font-size="7.6" fill="#131722" text-anchor="middle" stroke="#131722" stroke-width="0.1">12:00</text>
<text x="781.15" y="513.12" font-size="7.6" fill="#131722" text-anchor="middle" stroke="#131722" stroke-width="0.1">11</text>
<text x="845.42" y="513.12" font-size="7.6" fill="#131722" text-anchor="middle" stroke="#131722" stroke-width="0.1">12:00</text>
<text x="909.7" y="513.12" font-size="7.6" fill="#131722" text-anchor="middle" stroke="#131722" stroke-width="0.1">12</text>
<path d="M972.1 511L974.35 507.1H978.85L981.1 511L978.85 514.9H974.35Z" stroke="#131722" stroke-width="0.9" fill="none" stroke-linejoin="round"/><circle cx="976.6" cy="511" r="1.3" stroke="#131722" stroke-width="0.8" fill="none"/>
<path d="M34 519.4H994" stroke="#E0E3EB" stroke-width="0.8"/>
<text x="43.1" y="534.39" font-size="7.8" fill="#131722" textLength="8.8" lengthAdjust="spacingAndGlyphs" stroke="#131722" stroke-width="0.1">1D</text>
<text x="60" y="534.39" font-size="7.8" fill="#131722" textLength="9" lengthAdjust="spacingAndGlyphs" stroke="#131722" stroke-width="0.1">5D</text>
<text x="77.5" y="534.39" font-size="7.8" fill="#131722" textLength="10" lengthAdjust="spacingAndGlyphs" stroke="#131722" stroke-width="0.1">1M</text>
<text x="94.5" y="534.39" font-size="7.8" fill="#131722" textLength="10.5" lengthAdjust="spacingAndGlyphs" stroke="#131722" stroke-width="0.1">3M</text>
<text x="112.6" y="534.39" font-size="7.8" fill="#131722" textLength="9.9" lengthAdjust="spacingAndGlyphs" stroke="#131722" stroke-width="0.1">6M</text>
<text x="130" y="534.39" font-size="7.8" fill="#131722" textLength="15" lengthAdjust="spacingAndGlyphs" stroke="#131722" stroke-width="0.1">YTD</text>
<text x="153" y="534.39" font-size="7.8" fill="#131722" textLength="9" lengthAdjust="spacingAndGlyphs" stroke="#131722" stroke-width="0.1">1Y</text>
<text x="169" y="534.39" font-size="7.8" fill="#131722" textLength="9" lengthAdjust="spacingAndGlyphs" stroke="#131722" stroke-width="0.1">5Y</text>
<text x="186" y="534.39" font-size="7.8" fill="#131722" textLength="10" lengthAdjust="spacingAndGlyphs" stroke="#131722" stroke-width="0.1">All</text>
<path d="M202.3 524V539" stroke="#E0E3EB" stroke-width="0.8"/>
<g stroke="#131722" stroke-width="0.9" fill="none" stroke-linejoin="round"><path d="M213.5 528.3V527.2H221.8V535.6H216.5M213.5 529.6H221.8M215.6 525.8V527.2M219.7 525.8V527.2M211.4 533.2H215.2M213.8 531.6L215.4 533.2L213.8 534.8"/></g>
<text x="932.9" y="534.39" font-size="7.8" fill="#131722" textLength="56.8" lengthAdjust="spacingAndGlyphs" stroke="#131722" stroke-width="0.1">05:12:24 (UTC)</text>
</svg></div>
<div class="panel bottombar" style="left:34px;top:545.5px;width:960px;height:23.5px;border-radius:2px 2px 0 0;"><svg width="960" height="23.5" viewBox="34 545.5 960 23.5">
<text x="43.8" y="559.88" font-size="8.6" fill="#131722" textLength="56.2" lengthAdjust="spacingAndGlyphs" stroke="#131722" stroke-width="0.1">Stock Screener</text>
<path d="M108.6 555.6L110.4 557.3L112.2 555.6" stroke="#131722" stroke-width="0.85" fill="none" stroke-linecap="round" stroke-linejoin="round"/>
<text x="128.5" y="559.88" font-size="8.6" fill="#131722" textLength="41.5" lengthAdjust="spacingAndGlyphs" stroke="#131722" stroke-width="0.1">Pine Editor</text>
<text x="189" y="559.88" font-size="8.6" fill="#131722" textLength="57.5" lengthAdjust="spacingAndGlyphs" stroke="#131722" stroke-width="0.1">Strategy Tester</text>
<text x="266.5" y="559.88" font-size="8.6" fill="#131722" textLength="51.5" lengthAdjust="spacingAndGlyphs" stroke="#131722" stroke-width="0.1">Trading Panel</text>
<path d="M957.6 558L961 555L964.4 558" stroke="#131722" stroke-width="0.9" fill="none" stroke-linecap="round" stroke-linejoin="round"/>
<path d="M977.2 554.6V553.2A1 1 0 0 1 978.2 552.2H986.8A1 1 0 0 1 987.8 553.2V554.6M987.8 558.6V560A1 1 0 0 1 986.8 561H978.2A1 1 0 0 1 977.2 560V558.6" stroke="#131722" stroke-width="0.95" fill="none" stroke-linecap="round" stroke-linejoin="round"/>
</svg></div>
<div class="panel rightbar" style="left:997px;top:26px;width:27px;height:543px;border-radius:2px 0 0 0;"><svg width="27" height="543" viewBox="997 26 27 543">
<path d="M1004.6 33.4H1016.4A1 1 0 0 1 1017.4 34.4V45.3A1 1 0 0 1 1016.4 46.3H1004.6A1 1 0 0 1 1003.6 45.3V34.4A1 1 0 0 1 1004.6 33.4Z" stroke="#131722" stroke-width="0.9" fill="none" stroke-linecap="round" stroke-linejoin="round"/>
<path d="M1006 37.1H1015.1M1006 39.9H1015.1M1006 42.6H1015.1" stroke="#8A8D97" stroke-width="1.2" fill="none" stroke-linecap="round" stroke-linejoin="round"/>
<path d="M1016.8 67.9A6.4 6.4 0 1 1 1004 67.9A6.4 6.4 0 1 1 1016.8 67.9M1010.4 65.2V69H1008.2M1003.5 65.4C1002.9 62.6 1005.6 60.9 1007.6 62.2M1017.3 65.4C1017.9 62.6 1015.2 60.9 1013.2 62.2" stroke="#131722" stroke-width="0.85" fill="none" stroke-linecap="round" stroke-linejoin="round"/>
<path d="M1001.8 90.5H1006.4M1004.1 88.2V92.8M1008 89.2H1016.2A1.2 1.2 0 0 1 1017.4 90.4V101.6A1.2 1.2 0 0 1 1016.2 102.8H1004.4A1.2 1.2 0 0 1 1003.2 101.6V94.4" stroke="#131722" stroke-width="0.85" fill="none" stroke-linecap="round" stroke-linejoin="round"/>
<path d="M1007.8 92.4H1014.4A1.5 1.5 0 0 1 1014.4 95.4H1007.8A1.5 1.5 0 0 1 1007.8 92.4ZM1006.4 97.4H1015.6M1006.4 100H1015.6" stroke="#131722" stroke-width="0.85" fill="none" stroke-linecap="round" stroke-linejoin="round"/>
<path d="M1010 115.8C1011.4 118.4 1012.6 119.6 1013 122C1013.6 121.6 1014 120.8 1014 120C1015.6 121.6 1016.8 123.6 1016.8 125.8C1016.8 128.6 1015.2 130.4 1012.6 131.2C1013.2 130 1012.8 128.8 1011.8 128C1011.6 129 1011 129.6 1010.2 129.8C1009.6 129 1009.2 128.4 1008.8 127.6C1007.8 128.6 1007.6 130 1008.4 131.2C1005.8 130.4 1004.2 128.4 1004.2 125.8C1004.2 121.6 1008.6 119.6 1010 115.8Z" stroke="#131722" stroke-width="0.85" fill="none" stroke-linecap="round" stroke-linejoin="round"/>
<path d="M1004.5 146.9H1016.4A1 1 0 0 1 1017.4 147.9V158.4A1 1 0 0 1 1016.4 159.4H1004.5A1 1 0 0 1 1003.5 158.4V147.9A1 1 0 0 1 1004.5 146.9ZM1003.5 151H1017.4" stroke="#131722" stroke-width="0.9" fill="none" stroke-linecap="round" stroke-linejoin="round"/>
<path d="M1006.2 145.6H1007.6V148.2H1006.2ZM1013.6 145.6H1015V148.2H1013.6Z" stroke="#131722" stroke-width="0.8" fill="none" stroke-linecap="round" stroke-linejoin="round" fill="#fff"/>
<path d="M1008 183.2C1005.8 182 1004.9 179.9 1004.9 177.9A5.5 5.5 0 0 1 1015.9 177.9C1015.9 179.9 1015 182 1012.8 183.2M1007.8 183.6H1013V185.4C1013 186.6 1012 187.3 1010.4 187.3C1008.8 187.3 1007.8 186.6 1007.8 185.4ZM1007.8 185.2H1013M1010.4 178.8V183.2M1009 178.8H1011.8" stroke="#131722" stroke-width="0.85" fill="none" stroke-linecap="round" stroke-linejoin="round"/>
<path d="M1000.2 197.7H1019.8" stroke="#E0E3EB" stroke-width="0.8"/>
<path d="M1004.7 208.6H1014A1.2 1.2 0 0 1 1015.2 209.8V217.3A1.2 1.2 0 0 1 1014 218.5H1006.6L1003.5 220.4V209.8A1.2 1.2 0 0 1 1004.7 208.6ZM1015.2 212.9H1016.4A1.2 1.2 0 0 1 1017.6 214.1V222.8L1014.6 220.9H1009.4V218.6" stroke="#131722" stroke-width="0.85" fill="none" stroke-linecap="round" stroke-linejoin="round"/>
<path d="M1008.4 245.4C1006.4 244.4 1005.5 242.5 1005.5 240.6A4.9 4.9 0 0 1 1015.3 240.6C1015.3 242.5 1014.4 244.4 1012.4 245.4M1008.2 245.8H1012.6V247.8C1012.6 249 1011.8 249.8 1010.4 249.8C1009 249.8 1008.2 249 1008.2 247.8ZM1008.2 247.6H1012.6M1010.4 241.6V245.4M1009.2 241.6H1011.6" stroke="#131722" stroke-width="0.8" fill="none" stroke-linecap="round" stroke-linejoin="round"/>
<path d="M1003.4 237.8C1002.6 239.6 1002.6 242.2 1003.4 244M1001.6 237.4C1000.6 239.6 1000.6 242.2 1001.6 244.4M1017.4 237.8C1018.2 239.6 1018.2 242.2 1017.4 244M1019.2 237.4C1020.2 239.6 1020.2 242.2 1019.2 244.4" stroke="#131722" stroke-width="0.7" fill="none" stroke-linecap="round" stroke-linejoin="round"/>
<path d="M1005.7 266.3V273.5L1011.6 269.9ZM1013.7 265.5C1016.6 267.6 1016.6 272.2 1013.7 274.4M1016.1 262.6C1021.4 266 1021.4 273.8 1016.1 277.1" stroke="#131722" stroke-width="0.85" fill="none" stroke-linecap="round" stroke-linejoin="round"/>
<path d="M1004.1 302H1017.6M1005.7 301.8V296.4C1005.7 293.4 1007.8 291.3 1010.9 291.3C1014 291.3 1016.1 293.4 1016.1 296.4V301.8M1009.4 303.4C1009.8 304.8 1012 304.8 1012.4 303.4" stroke="#131722" stroke-width="0.85" fill="none" stroke-linecap="round" stroke-linejoin="round"/>
<path d="M1010.4 521.6L1017.4 525.4L1010.4 529.2L1003.4 525.4ZM1003.4 528.6L1010.4 532.6L1017.4 528.6" stroke="#131722" stroke-width="0.85" fill="none" stroke-linecap="round" stroke-linejoin="round"/>
<path d="M1017.9 553.6A7.5 7.5 0 1 1 1002.9 553.6A7.5 7.5 0 1 1 1017.9 553.6M1008 551.4A2.4 2.4 0 1 1 1011.6 553.4C1010.6 554 1010.4 554.6 1010.4 555.6" stroke="#131722" stroke-width="0.85" fill="none" stroke-linecap="round" stroke-linejoin="round"/>
<circle cx="1010.4" cy="557.6" r="0.7" fill="#131722"/>
</svg></div>
</div></body></html>
